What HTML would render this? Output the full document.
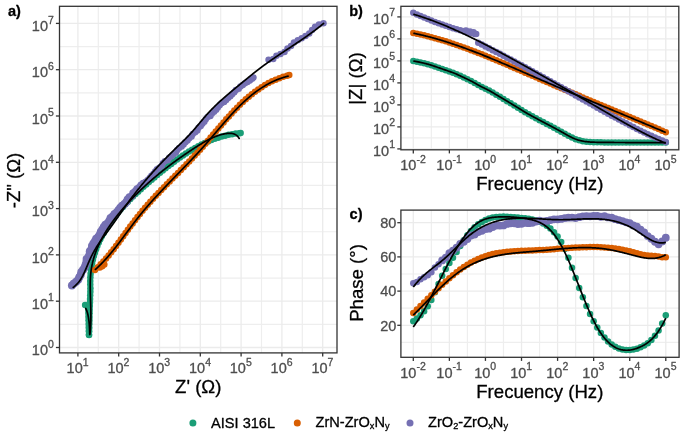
<!DOCTYPE html>
<html><head><meta charset="utf-8"><style>
html,body{margin:0;padding:0;background:#fff;}
svg{display:block;font-family:"Liberation Sans", sans-serif;filter:blur(0.45px);}
text{paint-order:stroke;stroke-width:0.3px;stroke-linejoin:round;}
</style></head><body>
<svg width="685" height="436" viewBox="0 0 685 436">
<rect x="0" y="0" width="685" height="436" fill="#fff"/>
<line x1="98.30" y1="6.3" x2="98.30" y2="352.9" stroke="#EEEEEE" stroke-width="1.2"/>
<line x1="139.10" y1="6.3" x2="139.10" y2="352.9" stroke="#EEEEEE" stroke-width="1.2"/>
<line x1="179.90" y1="6.3" x2="179.90" y2="352.9" stroke="#EEEEEE" stroke-width="1.2"/>
<line x1="220.70" y1="6.3" x2="220.70" y2="352.9" stroke="#EEEEEE" stroke-width="1.2"/>
<line x1="261.50" y1="6.3" x2="261.50" y2="352.9" stroke="#EEEEEE" stroke-width="1.2"/>
<line x1="302.30" y1="6.3" x2="302.30" y2="352.9" stroke="#EEEEEE" stroke-width="1.2"/>
<line x1="59.5" y1="324.35" x2="337.0" y2="324.35" stroke="#EEEEEE" stroke-width="1.2"/>
<line x1="59.5" y1="278.05" x2="337.0" y2="278.05" stroke="#EEEEEE" stroke-width="1.2"/>
<line x1="59.5" y1="231.75" x2="337.0" y2="231.75" stroke="#EEEEEE" stroke-width="1.2"/>
<line x1="59.5" y1="185.45" x2="337.0" y2="185.45" stroke="#EEEEEE" stroke-width="1.2"/>
<line x1="59.5" y1="139.15" x2="337.0" y2="139.15" stroke="#EEEEEE" stroke-width="1.2"/>
<line x1="59.5" y1="92.85" x2="337.0" y2="92.85" stroke="#EEEEEE" stroke-width="1.2"/>
<line x1="59.5" y1="46.55" x2="337.0" y2="46.55" stroke="#EEEEEE" stroke-width="1.2"/>
<line x1="77.90" y1="6.3" x2="77.90" y2="352.9" stroke="#EBEBEB" stroke-width="1.3"/>
<line x1="118.70" y1="6.3" x2="118.70" y2="352.9" stroke="#EBEBEB" stroke-width="1.3"/>
<line x1="159.50" y1="6.3" x2="159.50" y2="352.9" stroke="#EBEBEB" stroke-width="1.3"/>
<line x1="200.30" y1="6.3" x2="200.30" y2="352.9" stroke="#EBEBEB" stroke-width="1.3"/>
<line x1="241.10" y1="6.3" x2="241.10" y2="352.9" stroke="#EBEBEB" stroke-width="1.3"/>
<line x1="281.90" y1="6.3" x2="281.90" y2="352.9" stroke="#EBEBEB" stroke-width="1.3"/>
<line x1="322.70" y1="6.3" x2="322.70" y2="352.9" stroke="#EBEBEB" stroke-width="1.3"/>
<line x1="59.5" y1="347.50" x2="337.0" y2="347.50" stroke="#EBEBEB" stroke-width="1.3"/>
<line x1="59.5" y1="301.20" x2="337.0" y2="301.20" stroke="#EBEBEB" stroke-width="1.3"/>
<line x1="59.5" y1="254.90" x2="337.0" y2="254.90" stroke="#EBEBEB" stroke-width="1.3"/>
<line x1="59.5" y1="208.60" x2="337.0" y2="208.60" stroke="#EBEBEB" stroke-width="1.3"/>
<line x1="59.5" y1="162.30" x2="337.0" y2="162.30" stroke="#EBEBEB" stroke-width="1.3"/>
<line x1="59.5" y1="116.00" x2="337.0" y2="116.00" stroke="#EBEBEB" stroke-width="1.3"/>
<line x1="59.5" y1="69.70" x2="337.0" y2="69.70" stroke="#EBEBEB" stroke-width="1.3"/>
<line x1="59.5" y1="23.40" x2="337.0" y2="23.40" stroke="#EBEBEB" stroke-width="1.3"/>
<line x1="431.34" y1="6.3" x2="431.34" y2="149.8" stroke="#EEEEEE" stroke-width="1.2"/>
<line x1="467.41" y1="6.3" x2="467.41" y2="149.8" stroke="#EEEEEE" stroke-width="1.2"/>
<line x1="503.48" y1="6.3" x2="503.48" y2="149.8" stroke="#EEEEEE" stroke-width="1.2"/>
<line x1="539.55" y1="6.3" x2="539.55" y2="149.8" stroke="#EEEEEE" stroke-width="1.2"/>
<line x1="575.62" y1="6.3" x2="575.62" y2="149.8" stroke="#EEEEEE" stroke-width="1.2"/>
<line x1="611.68" y1="6.3" x2="611.68" y2="149.8" stroke="#EEEEEE" stroke-width="1.2"/>
<line x1="647.75" y1="6.3" x2="647.75" y2="149.8" stroke="#EEEEEE" stroke-width="1.2"/>
<line x1="400.9" y1="137.90" x2="678.8" y2="137.90" stroke="#EEEEEE" stroke-width="1.2"/>
<line x1="400.9" y1="115.90" x2="678.8" y2="115.90" stroke="#EEEEEE" stroke-width="1.2"/>
<line x1="400.9" y1="93.90" x2="678.8" y2="93.90" stroke="#EEEEEE" stroke-width="1.2"/>
<line x1="400.9" y1="71.90" x2="678.8" y2="71.90" stroke="#EEEEEE" stroke-width="1.2"/>
<line x1="400.9" y1="49.90" x2="678.8" y2="49.90" stroke="#EEEEEE" stroke-width="1.2"/>
<line x1="400.9" y1="27.90" x2="678.8" y2="27.90" stroke="#EEEEEE" stroke-width="1.2"/>
<line x1="413.30" y1="6.3" x2="413.30" y2="149.8" stroke="#EBEBEB" stroke-width="1.3"/>
<line x1="449.37" y1="6.3" x2="449.37" y2="149.8" stroke="#EBEBEB" stroke-width="1.3"/>
<line x1="485.44" y1="6.3" x2="485.44" y2="149.8" stroke="#EBEBEB" stroke-width="1.3"/>
<line x1="521.51" y1="6.3" x2="521.51" y2="149.8" stroke="#EBEBEB" stroke-width="1.3"/>
<line x1="557.58" y1="6.3" x2="557.58" y2="149.8" stroke="#EBEBEB" stroke-width="1.3"/>
<line x1="593.65" y1="6.3" x2="593.65" y2="149.8" stroke="#EBEBEB" stroke-width="1.3"/>
<line x1="629.72" y1="6.3" x2="629.72" y2="149.8" stroke="#EBEBEB" stroke-width="1.3"/>
<line x1="665.79" y1="6.3" x2="665.79" y2="149.8" stroke="#EBEBEB" stroke-width="1.3"/>
<line x1="400.9" y1="148.90" x2="678.8" y2="148.90" stroke="#EBEBEB" stroke-width="1.3"/>
<line x1="400.9" y1="126.90" x2="678.8" y2="126.90" stroke="#EBEBEB" stroke-width="1.3"/>
<line x1="400.9" y1="104.90" x2="678.8" y2="104.90" stroke="#EBEBEB" stroke-width="1.3"/>
<line x1="400.9" y1="82.90" x2="678.8" y2="82.90" stroke="#EBEBEB" stroke-width="1.3"/>
<line x1="400.9" y1="60.90" x2="678.8" y2="60.90" stroke="#EBEBEB" stroke-width="1.3"/>
<line x1="400.9" y1="38.90" x2="678.8" y2="38.90" stroke="#EBEBEB" stroke-width="1.3"/>
<line x1="400.9" y1="16.90" x2="678.8" y2="16.90" stroke="#EBEBEB" stroke-width="1.3"/>
<line x1="431.34" y1="210.1" x2="431.34" y2="357.3" stroke="#EEEEEE" stroke-width="1.2"/>
<line x1="467.41" y1="210.1" x2="467.41" y2="357.3" stroke="#EEEEEE" stroke-width="1.2"/>
<line x1="503.48" y1="210.1" x2="503.48" y2="357.3" stroke="#EEEEEE" stroke-width="1.2"/>
<line x1="539.55" y1="210.1" x2="539.55" y2="357.3" stroke="#EEEEEE" stroke-width="1.2"/>
<line x1="575.62" y1="210.1" x2="575.62" y2="357.3" stroke="#EEEEEE" stroke-width="1.2"/>
<line x1="611.68" y1="210.1" x2="611.68" y2="357.3" stroke="#EEEEEE" stroke-width="1.2"/>
<line x1="647.75" y1="210.1" x2="647.75" y2="357.3" stroke="#EEEEEE" stroke-width="1.2"/>
<line x1="400.9" y1="342.40" x2="679.1" y2="342.40" stroke="#EEEEEE" stroke-width="1.2"/>
<line x1="400.9" y1="308.20" x2="679.1" y2="308.20" stroke="#EEEEEE" stroke-width="1.2"/>
<line x1="400.9" y1="274.00" x2="679.1" y2="274.00" stroke="#EEEEEE" stroke-width="1.2"/>
<line x1="400.9" y1="239.80" x2="679.1" y2="239.80" stroke="#EEEEEE" stroke-width="1.2"/>
<line x1="413.30" y1="210.1" x2="413.30" y2="357.3" stroke="#EBEBEB" stroke-width="1.3"/>
<line x1="449.37" y1="210.1" x2="449.37" y2="357.3" stroke="#EBEBEB" stroke-width="1.3"/>
<line x1="485.44" y1="210.1" x2="485.44" y2="357.3" stroke="#EBEBEB" stroke-width="1.3"/>
<line x1="521.51" y1="210.1" x2="521.51" y2="357.3" stroke="#EBEBEB" stroke-width="1.3"/>
<line x1="557.58" y1="210.1" x2="557.58" y2="357.3" stroke="#EBEBEB" stroke-width="1.3"/>
<line x1="593.65" y1="210.1" x2="593.65" y2="357.3" stroke="#EBEBEB" stroke-width="1.3"/>
<line x1="629.72" y1="210.1" x2="629.72" y2="357.3" stroke="#EBEBEB" stroke-width="1.3"/>
<line x1="665.79" y1="210.1" x2="665.79" y2="357.3" stroke="#EBEBEB" stroke-width="1.3"/>
<line x1="400.9" y1="325.30" x2="679.1" y2="325.30" stroke="#EBEBEB" stroke-width="1.3"/>
<line x1="400.9" y1="291.10" x2="679.1" y2="291.10" stroke="#EBEBEB" stroke-width="1.3"/>
<line x1="400.9" y1="256.90" x2="679.1" y2="256.90" stroke="#EBEBEB" stroke-width="1.3"/>
<line x1="400.9" y1="222.70" x2="679.1" y2="222.70" stroke="#EBEBEB" stroke-width="1.3"/>
<defs><clipPath id="clipA"><rect x="59.5" y="6.3" width="277.5" height="346.59999999999997"/></clipPath><clipPath id="clipB"><rect x="400.9" y="6.3" width="277.9" height="143.5"/></clipPath><clipPath id="clipC"><rect x="400.9" y="210.1" width="278.20000000000005" height="147.20000000000002"/></clipPath></defs>
<g clip-path="url(#clipA)">
<g fill="#1B9E77"><circle cx="85.10" cy="305.10" r="3.25"/><circle cx="88.30" cy="309.50" r="3.25"/><circle cx="88.38" cy="313.10" r="3.25"/><circle cx="88.47" cy="316.70" r="3.25"/><circle cx="88.56" cy="320.30" r="3.25"/><circle cx="88.65" cy="323.90" r="3.25"/><circle cx="88.74" cy="327.49" r="3.25"/><circle cx="88.83" cy="331.09" r="3.25"/><circle cx="88.93" cy="334.69" r="3.25"/><circle cx="89.06" cy="334.91" r="3.25"/><circle cx="89.19" cy="331.31" r="3.25"/><circle cx="89.27" cy="327.71" r="3.25"/><circle cx="89.35" cy="324.11" r="3.25"/><circle cx="89.43" cy="320.52" r="3.25"/><circle cx="89.50" cy="316.92" r="3.25"/><circle cx="89.57" cy="313.32" r="3.25"/><circle cx="89.68" cy="309.72" r="3.25"/><circle cx="89.80" cy="306.12" r="3.25"/><circle cx="89.92" cy="302.52" r="3.25"/><circle cx="90.06" cy="298.93" r="3.25"/><circle cx="90.19" cy="295.33" r="3.25"/><circle cx="90.33" cy="291.73" r="3.25"/><circle cx="90.40" cy="288.13" r="3.25"/><circle cx="90.27" cy="284.54" r="3.25"/><circle cx="90.25" cy="280.94" r="3.25"/><circle cx="90.37" cy="277.34" r="3.25"/><circle cx="90.62" cy="273.75" r="3.25"/><circle cx="91.00" cy="270.17" r="3.25"/><circle cx="91.51" cy="266.61" r="3.25"/><circle cx="92.16" cy="263.06" r="3.25"/><circle cx="92.95" cy="259.55" r="3.25"/><circle cx="93.87" cy="256.07" r="3.25"/><circle cx="94.91" cy="252.63" r="3.25"/><circle cx="96.09" cy="249.22" r="3.25"/><circle cx="97.38" cy="245.86" r="3.25"/><circle cx="98.79" cy="242.55" r="3.25"/><circle cx="100.32" cy="239.29" r="3.25"/><circle cx="101.95" cy="236.08" r="3.25"/><circle cx="103.68" cy="232.93" r="3.25"/><circle cx="105.51" cy="229.83" r="3.25"/><circle cx="107.43" cy="226.78" r="3.25"/><circle cx="109.43" cy="223.79" r="3.25"/><circle cx="111.51" cy="220.85" r="3.25"/><circle cx="113.67" cy="217.97" r="3.25"/><circle cx="115.89" cy="215.13" r="3.25"/><circle cx="118.17" cy="212.35" r="3.25"/><circle cx="120.51" cy="209.61" r="3.25"/><circle cx="122.90" cy="206.92" r="3.25"/><circle cx="125.34" cy="204.28" r="3.25"/><circle cx="127.83" cy="201.67" r="3.25"/><circle cx="130.35" cy="199.11" r="3.25"/><circle cx="132.92" cy="196.58" r="3.25"/><circle cx="135.51" cy="194.09" r="3.25"/><circle cx="138.14" cy="191.63" r="3.25"/><circle cx="140.80" cy="189.19" r="3.25"/><circle cx="143.48" cy="186.79" r="3.25"/><circle cx="146.18" cy="184.41" r="3.25"/><circle cx="148.90" cy="182.06" r="3.25"/><circle cx="151.64" cy="179.72" r="3.25"/><circle cx="154.39" cy="177.40" r="3.25"/><circle cx="157.16" cy="175.10" r="3.25"/><circle cx="159.94" cy="172.81" r="3.25"/><circle cx="162.74" cy="170.55" r="3.25"/><circle cx="165.55" cy="168.30" r="3.25"/><circle cx="168.38" cy="166.08" r="3.25"/><circle cx="171.24" cy="163.89" r="3.25"/><circle cx="174.12" cy="161.73" r="3.25"/><circle cx="177.03" cy="159.61" r="3.25"/><circle cx="179.97" cy="157.53" r="3.25"/><circle cx="182.94" cy="155.50" r="3.25"/><circle cx="185.94" cy="153.51" r="3.25"/><circle cx="188.98" cy="151.58" r="3.25"/><circle cx="192.06" cy="149.72" r="3.25"/><circle cx="195.18" cy="147.92" r="3.25"/><circle cx="198.34" cy="146.19" r="3.25"/><circle cx="201.54" cy="144.53" r="3.25"/><circle cx="204.78" cy="142.97" r="3.25"/><circle cx="208.06" cy="141.49" r="3.25"/><circle cx="211.38" cy="140.10" r="3.25"/><circle cx="214.74" cy="138.82" r="3.25"/><circle cx="218.15" cy="137.65" r="3.25"/><circle cx="221.59" cy="136.59" r="3.25"/><circle cx="225.06" cy="135.64" r="3.25"/><circle cx="228.57" cy="134.83" r="3.25"/><circle cx="232.10" cy="134.13" r="3.25"/><circle cx="235.66" cy="133.57" r="3.25"/><circle cx="239.23" cy="133.14" r="3.25"/><circle cx="240.61" cy="133.01" r="3.25"/></g>
<g fill="#D95F02"><circle cx="94.95" cy="269.95" r="3.25"/><circle cx="97.85" cy="267.20" r="3.25"/><circle cx="100.66" cy="264.35" r="3.25"/><circle cx="103.39" cy="261.43" r="3.25"/><circle cx="106.05" cy="258.44" r="3.25"/><circle cx="108.64" cy="255.39" r="3.25"/><circle cx="111.16" cy="252.29" r="3.25"/><circle cx="113.64" cy="249.14" r="3.25"/><circle cx="116.07" cy="245.97" r="3.25"/><circle cx="118.46" cy="242.76" r="3.25"/><circle cx="120.84" cy="239.54" r="3.25"/><circle cx="123.19" cy="236.31" r="3.25"/><circle cx="125.54" cy="233.07" r="3.25"/><circle cx="127.89" cy="229.83" r="3.25"/><circle cx="130.25" cy="226.60" r="3.25"/><circle cx="132.63" cy="223.39" r="3.25"/><circle cx="135.03" cy="220.19" r="3.25"/><circle cx="137.48" cy="217.03" r="3.25"/><circle cx="139.97" cy="213.90" r="3.25"/><circle cx="142.51" cy="210.81" r="3.25"/><circle cx="145.09" cy="207.75" r="3.25"/><circle cx="147.71" cy="204.73" r="3.25"/><circle cx="150.37" cy="201.74" r="3.25"/><circle cx="153.06" cy="198.78" r="3.25"/><circle cx="155.77" cy="195.84" r="3.25"/><circle cx="158.51" cy="192.93" r="3.25"/><circle cx="161.27" cy="190.03" r="3.25"/><circle cx="164.05" cy="187.15" r="3.25"/><circle cx="166.84" cy="184.29" r="3.25"/><circle cx="169.64" cy="181.43" r="3.25"/><circle cx="172.44" cy="178.58" r="3.25"/><circle cx="175.25" cy="175.73" r="3.25"/><circle cx="178.06" cy="172.88" r="3.25"/><circle cx="180.86" cy="170.03" r="3.25"/><circle cx="183.66" cy="167.17" r="3.25"/><circle cx="186.45" cy="164.30" r="3.25"/><circle cx="189.22" cy="161.42" r="3.25"/><circle cx="191.98" cy="158.52" r="3.25"/><circle cx="194.71" cy="155.60" r="3.25"/><circle cx="197.42" cy="152.65" r="3.25"/><circle cx="200.10" cy="149.69" r="3.25"/><circle cx="202.75" cy="146.69" r="3.25"/><circle cx="205.38" cy="143.68" r="3.25"/><circle cx="207.99" cy="140.64" r="3.25"/><circle cx="210.58" cy="137.60" r="3.25"/><circle cx="213.17" cy="134.55" r="3.25"/><circle cx="215.76" cy="131.50" r="3.25"/><circle cx="218.34" cy="128.45" r="3.25"/><circle cx="220.94" cy="125.41" r="3.25"/><circle cx="223.56" cy="122.38" r="3.25"/><circle cx="226.19" cy="119.37" r="3.25"/><circle cx="228.86" cy="116.39" r="3.25"/><circle cx="231.55" cy="113.43" r="3.25"/><circle cx="234.29" cy="110.51" r="3.25"/><circle cx="237.07" cy="107.64" r="3.25"/><circle cx="239.90" cy="104.81" r="3.25"/><circle cx="242.79" cy="102.05" r="3.25"/><circle cx="245.74" cy="99.35" r="3.25"/><circle cx="248.76" cy="96.72" r="3.25"/><circle cx="251.85" cy="94.18" r="3.25"/><circle cx="255.01" cy="91.73" r="3.25"/><circle cx="258.25" cy="89.39" r="3.25"/><circle cx="261.58" cy="87.16" r="3.25"/><circle cx="264.98" cy="85.06" r="3.25"/><circle cx="268.47" cy="83.10" r="3.25"/><circle cx="272.03" cy="81.29" r="3.25"/><circle cx="275.67" cy="79.63" r="3.25"/><circle cx="279.38" cy="78.13" r="3.25"/><circle cx="283.15" cy="76.81" r="3.25"/><circle cx="286.99" cy="75.67" r="3.25"/><circle cx="289.28" cy="75.07" r="3.25"/><circle cx="99.80" cy="267.60" r="3.25"/><circle cx="102.20" cy="266.20" r="3.25"/><circle cx="104.30" cy="264.60" r="3.25"/></g>
<g fill="#7570B3"><circle cx="71.91" cy="285.41" r="4.00"/><circle cx="73.83" cy="283.41" r="4.00"/><circle cx="76.15" cy="281.79" r="4.00"/><circle cx="78.14" cy="279.77" r="4.00"/><circle cx="79.30" cy="277.18" r="4.00"/><circle cx="80.73" cy="274.78" r="4.00"/><circle cx="81.35" cy="271.98" r="4.00"/><circle cx="83.08" cy="269.70" r="4.00"/><circle cx="84.73" cy="267.34" r="4.00"/><circle cx="85.62" cy="264.68" r="4.00"/><circle cx="86.46" cy="261.99" r="4.00"/><circle cx="86.63" cy="259.07" r="4.00"/><circle cx="88.65" cy="256.84" r="4.00"/><circle cx="89.62" cy="254.22" r="4.00"/><circle cx="89.80" cy="251.26" r="4.00"/><circle cx="91.53" cy="248.97" r="4.00"/><circle cx="91.96" cy="246.06" r="4.00"/><circle cx="93.35" cy="243.61" r="4.00"/><circle cx="94.93" cy="241.27" r="4.00"/><circle cx="96.13" cy="238.72" r="4.00"/><circle cx="98.29" cy="236.75" r="4.00"/><circle cx="99.84" cy="234.43" r="4.00"/><circle cx="100.83" cy="231.73" r="4.00"/><circle cx="102.38" cy="229.39" r="4.00"/><circle cx="103.77" cy="226.94" r="4.00"/><circle cx="105.40" cy="224.65" r="4.00"/><circle cx="107.80" cy="222.96" r="4.00"/><circle cx="109.40" cy="220.66" r="4.00"/><circle cx="110.57" cy="218.00" r="4.00"/><circle cx="112.81" cy="216.21" r="4.00"/><circle cx="114.53" cy="214.00" r="4.00"/><circle cx="116.83" cy="212.29" r="4.00"/><circle cx="118.54" cy="210.06" r="4.00"/><circle cx="120.28" cy="207.87" r="4.00"/><circle cx="122.10" cy="205.74" r="4.00"/><circle cx="124.40" cy="204.05" r="4.00"/><circle cx="126.33" cy="202.03" r="3.96"/><circle cx="127.58" cy="199.37" r="3.92"/><circle cx="129.40" cy="197.24" r="3.87"/><circle cx="131.90" cy="195.75" r="3.79"/><circle cx="133.11" cy="193.02" r="3.76"/><circle cx="135.34" cy="191.28" r="3.69"/><circle cx="136.96" cy="188.95" r="3.64"/><circle cx="139.22" cy="187.24" r="3.57"/><circle cx="140.91" cy="184.97" r="3.52"/><circle cx="143.14" cy="183.24" r="3.46"/><circle cx="145.68" cy="181.83" r="3.38"/><circle cx="147.80" cy="179.99" r="3.32"/><circle cx="149.67" cy="177.90" r="3.26"/><circle cx="151.41" cy="175.67" r="3.25"/><circle cx="153.47" cy="173.77" r="3.25"/><circle cx="155.19" cy="171.53" r="3.25"/><circle cx="156.97" cy="169.35" r="3.25"/><circle cx="159.28" cy="167.70" r="3.25"/><circle cx="161.61" cy="166.09" r="3.25"/><circle cx="162.87" cy="163.36" r="3.25"/><circle cx="164.83" cy="161.36" r="3.25"/><circle cx="167.67" cy="160.26" r="3.25"/><circle cx="169.14" cy="157.76" r="3.25"/><circle cx="171.59" cy="156.26" r="3.25"/><circle cx="173.62" cy="154.33" r="3.25"/><circle cx="175.83" cy="152.59" r="3.25"/><circle cx="177.22" cy="150.01" r="3.25"/><circle cx="179.15" cy="147.98" r="3.25"/><circle cx="181.63" cy="146.50" r="3.25"/><circle cx="183.55" cy="144.46" r="3.25"/><circle cx="185.39" cy="142.33" r="3.25"/><circle cx="187.52" cy="140.50" r="3.25"/><circle cx="189.27" cy="138.29" r="3.25"/><circle cx="191.57" cy="136.62" r="3.25"/><circle cx="192.77" cy="133.89" r="3.25"/><circle cx="195.16" cy="132.29" r="3.25"/><circle cx="197.31" cy="130.47" r="3.25"/><circle cx="198.49" cy="127.75" r="3.25"/><circle cx="200.72" cy="125.99" r="3.25"/><circle cx="202.33" cy="123.67" r="3.25"/><circle cx="204.34" cy="121.71" r="3.25"/><circle cx="205.79" cy="119.24" r="3.25"/><circle cx="207.63" cy="117.12" r="3.25"/><circle cx="210.40" cy="115.88" r="3.25"/><circle cx="211.96" cy="113.51" r="3.25"/><circle cx="214.09" cy="111.66" r="3.25"/><circle cx="216.16" cy="109.78" r="3.25"/><circle cx="217.74" cy="107.41" r="3.25"/><circle cx="219.65" cy="105.36" r="3.25"/><circle cx="221.41" cy="103.15" r="3.25"/><circle cx="224.11" cy="101.91" r="3.25"/><circle cx="226.17" cy="100.02" r="3.25"/><circle cx="228.10" cy="97.99" r="3.25"/><circle cx="230.31" cy="96.27" r="3.25"/><circle cx="232.15" cy="94.13" r="3.25"/><circle cx="234.31" cy="92.36" r="3.25"/><circle cx="235.93" cy="89.93" r="3.25"/><circle cx="238.68" cy="88.87" r="3.25"/><circle cx="240.45" cy="86.59" r="3.25"/><circle cx="242.77" cy="85.02" r="3.25"/><circle cx="244.92" cy="83.20" r="3.25"/><circle cx="247.43" cy="81.91" r="3.25"/><circle cx="249.83" cy="80.45" r="3.25"/><circle cx="252.10" cy="78.82" r="3.25"/><circle cx="253.42" cy="77.50" r="3.25"/><circle cx="268.56" cy="59.77" r="3.25"/><circle cx="273.26" cy="58.94" r="3.25"/><circle cx="276.45" cy="55.78" r="3.25"/><circle cx="280.52" cy="53.95" r="3.25"/><circle cx="284.53" cy="52.00" r="3.25"/><circle cx="287.49" cy="48.54" r="3.25"/><circle cx="291.02" cy="45.92" r="3.25"/><circle cx="293.94" cy="42.44" r="3.25"/><circle cx="297.79" cy="40.26" r="3.25"/><circle cx="301.69" cy="38.14" r="3.25"/><circle cx="305.50" cy="35.89" r="3.25"/><circle cx="309.22" cy="33.51" r="3.25"/><circle cx="312.08" cy="29.99" r="3.25"/><circle cx="315.11" cy="26.70" r="3.25"/><circle cx="318.97" cy="24.52" r="3.25"/><circle cx="323.46" cy="23.17" r="3.25"/></g>
<path d="M85.73,308.44 L85.97,308.90 L86.19,309.37 L86.41,309.86 L86.62,310.37 L86.81,310.90 L87.00,311.44 L87.18,311.99 L87.35,312.56 L87.51,313.14 L87.67,313.73 L87.81,314.32 L87.95,314.93 L88.08,315.55 L88.21,316.17 L88.33,316.80 L88.44,317.43 L88.54,318.07 L88.64,318.71 L88.73,319.35 L88.81,319.99 L88.89,320.63 L88.97,321.27 L89.04,321.90 L89.10,322.54 L89.16,323.16 L89.21,323.79 L89.27,324.40 L89.31,325.01 L89.35,325.61 L89.39,326.19 L89.43,326.77 L89.46,327.34 L89.49,327.89 L89.51,328.43 L89.54,328.95 L89.56,329.46 L89.58,329.95 L89.60,330.42 L89.61,330.87 L89.63,331.30 L89.64,331.71 L89.65,332.10 L89.66,332.47 L89.67,332.81 L89.68,333.12 L89.69,333.41 L89.70,333.67 L89.71,333.90 L89.72,334.11 L89.73,334.28 L89.75,334.42 L89.76,334.52 L89.78,334.60 L89.79,334.64 L89.81,334.64 L89.83,334.61 L89.85,334.54 L89.88,334.43 L89.90,334.30 L89.93,334.13 L89.96,333.93 L89.99,333.70 L90.02,333.45 L90.05,333.16 L90.09,332.85 L90.12,332.52 L90.15,332.16 L90.19,331.78 L90.22,331.38 L90.26,330.96 L90.29,330.52 L90.33,330.06 L90.36,329.59 L90.40,329.10 L90.43,328.59 L90.47,328.08 L90.50,327.55 L90.53,327.01 L90.57,326.46 L90.60,325.90 L90.63,325.33 L90.66,324.76 L90.68,324.19 L90.71,323.60 L90.73,323.02 L90.75,322.44 L90.78,321.85 L90.79,321.27 L90.81,320.69 L90.82,320.10 L90.84,319.52 L90.85,318.94 L90.86,318.36 L90.86,317.79 L90.87,317.21 L90.87,316.63 L90.88,316.06 L90.88,315.48 L90.88,314.91 L90.88,314.34 L90.87,313.77 L90.87,313.19 L90.86,312.63 L90.86,312.06 L90.85,311.49 L90.84,310.92 L90.83,310.36 L90.82,309.79 L90.81,309.23 L90.79,308.66 L90.78,308.10 L90.77,307.54 L90.75,306.98 L90.74,306.42 L90.72,305.86 L90.70,305.30 L90.69,304.74 L90.67,304.19 L90.65,303.63 L90.63,303.08 L90.62,302.53 L90.60,301.97 L90.58,301.42 L90.56,300.87 L90.54,300.32 L90.52,299.77 L90.50,299.22 L90.48,298.68 L90.47,298.13 L90.45,297.58 L90.43,297.04 L90.41,296.50 L90.39,295.95 L90.38,295.41 L90.36,294.87 L90.35,294.33 L90.33,293.79 L90.32,293.25 L90.30,292.71 L90.29,292.18 L90.28,291.64 L90.27,291.10 L90.25,290.57 L90.25,290.04 L90.24,289.50 L90.23,288.97 L90.22,288.44 L90.22,287.91 L90.21,287.38 L90.21,286.85 L90.21,286.32 L90.21,285.80 L90.21,285.27 L90.21,284.74 L90.22,284.22 L90.23,283.70 L90.23,283.17 L90.24,282.65 L90.25,282.13 L90.27,281.61 L90.28,281.09 L90.30,280.57 L90.32,280.05 L90.34,279.53 L90.36,279.02 L90.39,278.50 L90.42,277.99 L90.44,277.47 L90.48,276.96 L90.51,276.45 L90.55,275.93 L90.59,275.42 L90.63,274.91 L90.67,274.40 L90.72,273.89 L90.77,273.39 L90.82,272.88 L90.88,272.37 L90.94,271.87 L91.00,271.36 L91.06,270.86 L91.13,270.35 L91.20,269.85 L91.27,269.35 L91.35,268.85 L91.42,268.35 L91.51,267.85 L91.59,267.35 L91.68,266.85 L91.77,266.35 L91.87,265.86 L91.96,265.36 L92.07,264.87 L92.17,264.37 L92.28,263.88 L92.38,263.38 L92.50,262.89 L92.61,262.40 L92.73,261.91 L92.85,261.42 L92.98,260.93 L93.10,260.44 L93.23,259.95 L93.37,259.47 L93.50,258.98 L93.64,258.50 L93.78,258.01 L93.92,257.53 L94.07,257.04 L94.22,256.56 L94.37,256.08 L94.52,255.60 L94.68,255.12 L94.84,254.64 L95.00,254.16 L95.17,253.68 L95.34,253.21 L95.51,252.73 L95.68,252.25 L95.85,251.78 L96.03,251.31 L96.21,250.83 L96.39,250.36 L96.58,249.89 L96.77,249.42 L96.96,248.95 L97.15,248.48 L97.35,248.01 L97.54,247.54 L97.74,247.07 L97.94,246.61 L98.15,246.14 L98.36,245.68 L98.56,245.21 L98.78,244.75 L98.99,244.29 L99.21,243.83 L99.42,243.37 L99.64,242.91 L99.87,242.45 L100.09,241.99 L100.32,241.53 L100.55,241.07 L100.78,240.62 L101.01,240.16 L101.25,239.71 L101.48,239.25 L101.72,238.80 L101.96,238.35 L102.21,237.90 L102.45,237.45 L102.70,237.00 L102.95,236.55 L103.20,236.10 L103.45,235.65 L103.71,235.20 L103.97,234.76 L104.22,234.31 L104.49,233.87 L104.75,233.43 L105.01,232.98 L105.28,232.54 L105.55,232.10 L105.82,231.66 L106.09,231.22 L106.36,230.78 L106.64,230.34 L106.91,229.91 L107.19,229.47 L107.47,229.03 L107.76,228.60 L108.04,228.16 L108.32,227.73 L108.61,227.30 L108.90,226.87 L109.19,226.44 L109.48,226.01 L109.77,225.58 L110.07,225.15 L110.37,224.72 L110.66,224.29 L110.96,223.87 L111.26,223.44 L111.56,223.02 L111.87,222.60 L112.17,222.17 L112.48,221.75 L112.79,221.33 L113.10,220.91 L113.41,220.49 L113.72,220.07 L114.03,219.65 L114.34,219.24 L114.66,218.82 L114.98,218.40 L115.29,217.99 L115.61,217.58 L115.93,217.16 L116.25,216.75 L116.58,216.34 L116.90,215.93 L117.23,215.52 L117.55,215.11 L117.88,214.70 L118.21,214.29 L118.54,213.89 L118.87,213.48 L119.20,213.08 L119.53,212.67 L119.86,212.27 L120.20,211.87 L120.53,211.47 L120.87,211.07 L121.21,210.67 L121.54,210.27 L121.88,209.87 L122.22,209.47 L122.56,209.07 L122.91,208.68 L123.25,208.28 L123.59,207.89 L123.93,207.50 L124.28,207.10 L124.62,206.71 L124.97,206.32 L125.32,205.93 L125.67,205.54 L126.01,205.15 L126.36,204.77 L126.71,204.38 L127.06,203.99 L127.41,203.61 L127.76,203.22 L128.12,202.84 L128.47,202.46 L128.82,202.08 L129.17,201.70 L129.53,201.32 L129.88,200.94 L130.24,200.56 L130.59,200.18 L130.95,199.80 L131.31,199.43 L131.66,199.05 L132.02,198.68 L132.38,198.31 L132.74,197.93 L133.10,197.56 L133.46,197.19 L133.82,196.82 L134.18,196.45 L134.54,196.08 L134.90,195.72 L135.26,195.35 L135.62,194.98 L135.99,194.62 L136.35,194.25 L136.71,193.89 L137.08,193.53 L137.44,193.16 L137.81,192.80 L138.18,192.44 L138.54,192.08 L138.91,191.72 L139.28,191.36 L139.64,191.00 L140.01,190.65 L140.38,190.29 L140.75,189.94 L141.12,189.58 L141.49,189.23 L141.86,188.87 L142.24,188.52 L142.61,188.17 L142.98,187.82 L143.35,187.47 L143.73,187.12 L144.10,186.77 L144.48,186.42 L144.85,186.07 L145.23,185.73 L145.60,185.38 L145.98,185.03 L146.36,184.69 L146.74,184.35 L147.11,184.00 L147.49,183.66 L147.87,183.32 L148.25,182.98 L148.63,182.63 L149.01,182.29 L149.40,181.95 L149.78,181.62 L150.16,181.28 L150.54,180.94 L150.93,180.60 L151.31,180.27 L151.70,179.93 L152.08,179.60 L152.47,179.26 L152.85,178.93 L153.24,178.60 L153.63,178.26 L154.02,177.93 L154.41,177.60 L154.79,177.27 L155.18,176.94 L155.57,176.61 L155.96,176.28 L156.36,175.95 L156.75,175.63 L157.14,175.30 L157.53,174.97 L157.93,174.65 L158.32,174.32 L158.71,174.00 L159.11,173.67 L159.50,173.35 L159.90,173.03 L160.30,172.70 L160.69,172.38 L161.09,172.06 L161.49,171.74 L161.89,171.42 L162.29,171.10 L162.69,170.78 L163.09,170.46 L163.49,170.14 L163.89,169.83 L164.29,169.51 L164.70,169.19 L165.10,168.88 L165.50,168.56 L165.91,168.25 L166.31,167.93 L166.72,167.62 L167.13,167.31 L167.53,166.99 L167.94,166.68 L168.35,166.37 L168.76,166.06 L169.16,165.75 L169.57,165.44 L169.98,165.13 L170.39,164.82 L170.80,164.51 L171.22,164.20 L171.63,163.89 L172.04,163.59 L172.46,163.28 L172.87,162.97 L173.28,162.67 L173.70,162.36 L174.11,162.05 L174.53,161.75 L174.95,161.45 L175.36,161.14 L175.78,160.84 L176.20,160.54 L176.62,160.23 L177.04,159.93 L177.46,159.63 L177.88,159.33 L178.30,159.03 L178.72,158.73 L179.15,158.43 L179.57,158.13 L179.99,157.83 L180.42,157.53 L180.84,157.23 L181.27,156.93 L181.69,156.64 L182.12,156.34 L182.55,156.04 L182.98,155.75 L183.40,155.45 L183.83,155.15 L184.26,154.86 L184.69,154.56 L185.12,154.27 L185.56,153.97 L185.99,153.68 L186.42,153.39 L186.85,153.09 L187.29,152.80 L187.72,152.51 L188.16,152.22 L188.59,151.92 L189.03,151.63 L189.46,151.34 L189.90,151.05 L190.34,150.76 L190.78,150.47 L191.22,150.18 L191.66,149.89 L192.10,149.60 L192.54,149.31 L192.98,149.02 L193.42,148.74 L193.86,148.45 L194.31,148.16 L194.75,147.87 L195.19,147.59 L195.64,147.30 L196.09,147.01 L196.53,146.73 L196.98,146.44 L197.43,146.16 L197.87,145.87 L198.32,145.59 L198.77,145.31 L199.22,145.03 L199.67,144.75 L200.12,144.47 L200.58,144.20 L201.03,143.92 L201.48,143.65 L201.94,143.37 L202.39,143.10 L202.85,142.83 L203.30,142.57 L203.76,142.30 L204.22,142.04 L204.67,141.78 L205.13,141.52 L205.59,141.26 L206.05,141.01 L206.51,140.76 L206.97,140.51 L207.44,140.26 L207.90,140.02 L208.36,139.78 L208.83,139.54 L209.29,139.30 L209.76,139.07 L210.22,138.84 L210.69,138.62 L211.16,138.39 L211.63,138.17 L212.10,137.96 L212.57,137.75 L213.04,137.54 L213.51,137.33 L213.98,137.13 L214.45,136.94 L214.93,136.74 L215.40,136.55 L215.88,136.37 L216.35,136.19 L216.83,136.01 L217.31,135.84 L217.79,135.68 L218.27,135.51 L218.75,135.36 L219.23,135.20 L219.71,135.05 L220.19,134.91 L220.67,134.77 L221.16,134.64 L221.64,134.51 L222.13,134.39 L222.62,134.27 L223.10,134.16 L223.59,134.05 L224.08,133.95 L224.57,133.86 L225.06,133.77 L225.55,133.69 L226.04,133.61 L226.54,133.54 L227.03,133.47 L227.52,133.42 L228.02,133.37 L228.51,133.33 L229.00,133.31 L229.49,133.29 L229.98,133.29 L230.46,133.30 L230.94,133.33 L231.42,133.37 L231.89,133.43 L232.36,133.50 L232.83,133.60 L233.29,133.71 L233.74,133.85 L234.19,134.00 L234.63,134.18 L235.06,134.39 L235.48,134.61 L235.90,134.87 L236.31,135.15 L236.71,135.45 L237.10,135.79 L237.48,136.15 L237.85,136.55 L238.21,136.98 L238.55,137.44 L238.89,137.93 L239.21,138.46" fill="none" stroke="#000" stroke-width="1.7" stroke-linejoin="round" stroke-linecap="round"/>
<path d="M95.42,269.44 L95.76,269.13 L96.10,268.82 L96.44,268.51 L96.78,268.20 L97.12,267.88 L97.46,267.57 L97.79,267.25 L98.13,266.94 L98.46,266.62 L98.79,266.30 L99.12,265.98 L99.45,265.66 L99.78,265.33 L100.11,265.01 L100.44,264.68 L100.76,264.36 L101.09,264.03 L101.41,263.70 L101.73,263.37 L102.05,263.04 L102.37,262.71 L102.69,262.38 L103.01,262.05 L103.32,261.71 L103.64,261.38 L103.96,261.04 L104.27,260.70 L104.58,260.36 L104.89,260.03 L105.21,259.69 L105.52,259.34 L105.82,259.00 L106.13,258.66 L106.44,258.32 L106.75,257.97 L107.05,257.63 L107.36,257.28 L107.66,256.93 L107.96,256.59 L108.27,256.24 L108.57,255.89 L108.87,255.54 L109.17,255.19 L109.47,254.84 L109.77,254.48 L110.06,254.13 L110.36,253.78 L110.66,253.42 L110.95,253.07 L111.25,252.71 L111.54,252.36 L111.84,252.00 L112.13,251.64 L112.42,251.28 L112.71,250.92 L113.00,250.56 L113.30,250.20 L113.58,249.84 L113.87,249.48 L114.16,249.12 L114.45,248.76 L114.74,248.40 L115.03,248.03 L115.31,247.67 L115.60,247.31 L115.88,246.94 L116.17,246.58 L116.45,246.21 L116.74,245.84 L117.02,245.48 L117.31,245.11 L117.59,244.74 L117.87,244.38 L118.15,244.01 L118.43,243.64 L118.72,243.27 L119.00,242.90 L119.28,242.53 L119.56,242.16 L119.84,241.79 L120.12,241.42 L120.40,241.05 L120.68,240.68 L120.96,240.31 L121.23,239.94 L121.51,239.57 L121.79,239.20 L122.07,238.83 L122.35,238.45 L122.62,238.08 L122.90,237.71 L123.18,237.34 L123.45,236.96 L123.73,236.59 L124.01,236.22 L124.28,235.85 L124.56,235.47 L124.84,235.10 L125.11,234.73 L125.39,234.35 L125.67,233.98 L125.94,233.61 L126.22,233.23 L126.49,232.86 L126.77,232.49 L127.05,232.11 L127.32,231.74 L127.60,231.37 L127.87,230.99 L128.15,230.62 L128.43,230.25 L128.70,229.88 L128.98,229.50 L129.26,229.13 L129.53,228.76 L129.81,228.39 L130.09,228.02 L130.36,227.64 L130.64,227.27 L130.92,226.90 L131.19,226.53 L131.47,226.16 L131.75,225.79 L132.03,225.42 L132.31,225.05 L132.58,224.68 L132.86,224.31 L133.14,223.94 L133.42,223.57 L133.70,223.20 L133.98,222.83 L134.26,222.46 L134.54,222.10 L134.82,221.73 L135.10,221.36 L135.39,221.00 L135.67,220.63 L135.95,220.26 L136.23,219.90 L136.52,219.53 L136.80,219.17 L137.08,218.81 L137.37,218.44 L137.65,218.08 L137.94,217.72 L138.23,217.36 L138.51,216.99 L138.80,216.63 L139.09,216.27 L139.37,215.91 L139.66,215.55 L139.95,215.20 L140.24,214.84 L140.53,214.48 L140.82,214.12 L141.11,213.77 L141.40,213.41 L141.70,213.06 L141.99,212.70 L142.28,212.35 L142.57,211.99 L142.87,211.64 L143.16,211.29 L143.46,210.93 L143.75,210.58 L144.05,210.23 L144.34,209.88 L144.64,209.53 L144.94,209.18 L145.23,208.83 L145.53,208.48 L145.83,208.13 L146.13,207.78 L146.43,207.43 L146.73,207.08 L147.03,206.74 L147.33,206.39 L147.63,206.04 L147.93,205.70 L148.23,205.35 L148.53,205.01 L148.83,204.66 L149.13,204.32 L149.44,203.97 L149.74,203.63 L150.04,203.29 L150.35,202.94 L150.65,202.60 L150.96,202.26 L151.26,201.92 L151.57,201.58 L151.87,201.23 L152.18,200.89 L152.48,200.55 L152.79,200.21 L153.10,199.87 L153.40,199.53 L153.71,199.19 L154.02,198.85 L154.33,198.52 L154.64,198.18 L154.94,197.84 L155.25,197.50 L155.56,197.16 L155.87,196.83 L156.18,196.49 L156.49,196.15 L156.80,195.82 L157.11,195.48 L157.42,195.14 L157.74,194.81 L158.05,194.47 L158.36,194.14 L158.67,193.80 L158.98,193.47 L159.30,193.13 L159.61,192.80 L159.92,192.47 L160.24,192.13 L160.55,191.80 L160.86,191.46 L161.18,191.13 L161.49,190.80 L161.81,190.47 L162.12,190.13 L162.44,189.80 L162.75,189.47 L163.07,189.14 L163.38,188.80 L163.70,188.47 L164.01,188.14 L164.33,187.81 L164.65,187.48 L164.96,187.15 L165.28,186.82 L165.60,186.49 L165.91,186.15 L166.23,185.82 L166.55,185.49 L166.86,185.16 L167.18,184.83 L167.50,184.50 L167.82,184.17 L168.14,183.84 L168.45,183.51 L168.77,183.18 L169.09,182.85 L169.41,182.52 L169.73,182.19 L170.05,181.87 L170.37,181.54 L170.68,181.21 L171.00,180.88 L171.32,180.55 L171.64,180.22 L171.96,179.89 L172.28,179.56 L172.60,179.23 L172.92,178.90 L173.24,178.57 L173.56,178.24 L173.88,177.92 L174.20,177.59 L174.52,177.26 L174.84,176.93 L175.16,176.60 L175.48,176.27 L175.80,175.94 L176.12,175.61 L176.44,175.28 L176.76,174.96 L177.08,174.63 L177.40,174.30 L177.73,173.97 L178.05,173.64 L178.37,173.31 L178.69,172.98 L179.01,172.65 L179.33,172.32 L179.65,171.99 L179.97,171.66 L180.29,171.33 L180.61,171.00 L180.93,170.67 L181.25,170.34 L181.57,170.01 L181.89,169.68 L182.22,169.35 L182.54,169.02 L182.86,168.69 L183.18,168.36 L183.50,168.03 L183.82,167.70 L184.14,167.37 L184.46,167.04 L184.78,166.71 L185.10,166.38 L185.42,166.04 L185.74,165.71 L186.06,165.38 L186.38,165.05 L186.70,164.72 L187.02,164.39 L187.34,164.05 L187.66,163.72 L187.98,163.39 L188.30,163.05 L188.62,162.72 L188.94,162.39 L189.26,162.05 L189.58,161.72 L189.89,161.39 L190.21,161.05 L190.53,160.72 L190.85,160.38 L191.17,160.05 L191.49,159.71 L191.81,159.38 L192.12,159.04 L192.44,158.70 L192.76,158.37 L193.08,158.03 L193.40,157.69 L193.71,157.36 L194.03,157.02 L194.35,156.68 L194.66,156.34 L194.98,156.01 L195.30,155.67 L195.61,155.33 L195.93,154.99 L196.25,154.65 L196.56,154.31 L196.88,153.97 L197.19,153.63 L197.51,153.29 L197.82,152.95 L198.14,152.61 L198.45,152.27 L198.77,151.92 L199.08,151.58 L199.39,151.24 L199.71,150.90 L200.02,150.55 L200.33,150.21 L200.65,149.86 L200.96,149.52 L201.27,149.17 L201.58,148.83 L201.90,148.48 L202.21,148.14 L202.52,147.79 L202.83,147.44 L203.14,147.10 L203.45,146.75 L203.76,146.40 L204.07,146.05 L204.38,145.70 L204.69,145.35 L205.00,145.00 L205.31,144.65 L205.62,144.30 L205.93,143.95 L206.23,143.60 L206.54,143.25 L206.85,142.89 L207.16,142.54 L207.46,142.19 L207.77,141.84 L208.08,141.48 L208.38,141.13 L208.69,140.77 L209.00,140.42 L209.30,140.06 L209.61,139.71 L209.91,139.35 L210.22,139.00 L210.52,138.64 L210.83,138.29 L211.14,137.93 L211.44,137.57 L211.74,137.22 L212.05,136.86 L212.35,136.51 L212.66,136.15 L212.96,135.79 L213.27,135.43 L213.57,135.08 L213.88,134.72 L214.18,134.36 L214.48,134.01 L214.79,133.65 L215.09,133.29 L215.40,132.93 L215.70,132.58 L216.00,132.22 L216.31,131.86 L216.61,131.50 L216.92,131.15 L217.22,130.79 L217.52,130.43 L217.83,130.07 L218.13,129.72 L218.44,129.36 L218.74,129.00 L219.04,128.65 L219.35,128.29 L219.65,127.93 L219.96,127.58 L220.26,127.22 L220.57,126.86 L220.87,126.51 L221.18,126.15 L221.48,125.80 L221.79,125.44 L222.09,125.09 L222.40,124.73 L222.70,124.38 L223.01,124.02 L223.31,123.67 L223.62,123.31 L223.93,122.96 L224.23,122.61 L224.54,122.25 L224.85,121.90 L225.15,121.55 L225.46,121.20 L225.77,120.85 L226.08,120.50 L226.38,120.14 L226.69,119.79 L227.00,119.44 L227.31,119.10 L227.62,118.75 L227.93,118.40 L228.24,118.05 L228.55,117.70 L228.86,117.35 L229.17,117.01 L229.48,116.66 L229.79,116.32 L230.10,115.97 L230.41,115.63 L230.72,115.28 L231.04,114.94 L231.35,114.60 L231.66,114.26 L231.98,113.91 L232.29,113.57 L232.61,113.23 L232.92,112.89 L233.24,112.55 L233.55,112.22 L233.87,111.88 L234.18,111.54 L234.50,111.20 L234.82,110.87 L235.14,110.53 L235.45,110.20 L235.77,109.87 L236.09,109.53 L236.41,109.20 L236.73,108.87 L237.05,108.54 L237.37,108.21 L237.70,107.88 L238.02,107.55 L238.34,107.23 L238.66,106.90 L238.99,106.58 L239.31,106.25 L239.64,105.93 L239.96,105.61 L240.29,105.28 L240.62,104.96 L240.94,104.64 L241.27,104.32 L241.60,104.01 L241.93,103.69 L242.26,103.37 L242.59,103.06 L242.92,102.74 L243.25,102.43 L243.58,102.12 L243.92,101.81 L244.25,101.50 L244.58,101.19 L244.92,100.88 L245.25,100.58 L245.59,100.27 L245.93,99.97 L246.26,99.66 L246.60,99.36 L246.94,99.06 L247.28,98.76 L247.62,98.46 L247.96,98.16 L248.31,97.87 L248.65,97.57 L248.99,97.28 L249.34,96.99 L249.68,96.69 L250.03,96.40 L250.37,96.11 L250.72,95.83 L251.07,95.54 L251.42,95.26 L251.77,94.97 L252.12,94.69 L252.47,94.41 L252.83,94.13 L253.18,93.85 L253.53,93.57 L253.89,93.30 L254.24,93.02 L254.60,92.75 L254.96,92.48 L255.32,92.21 L255.68,91.94 L256.04,91.67 L256.40,91.41 L256.76,91.14 L257.13,90.88 L257.49,90.62 L257.86,90.36 L258.22,90.10 L258.59,89.84 L258.96,89.59 L259.33,89.34 L259.70,89.08 L260.07,88.83 L260.44,88.58 L260.81,88.34 L261.19,88.09 L261.56,87.85 L261.94,87.60 L262.32,87.36 L262.69,87.12 L263.07,86.89 L263.45,86.65 L263.84,86.42 L264.22,86.19 L264.60,85.95 L264.99,85.73 L265.37,85.50 L265.76,85.27 L266.15,85.05 L266.54,84.83 L266.93,84.61 L267.32,84.39 L267.71,84.17 L268.11,83.96 L268.50,83.75 L268.90,83.53 L269.30,83.33 L269.70,83.12 L270.10,82.91 L270.50,82.71 L270.90,82.51 L271.30,82.31 L271.71,82.11 L272.11,81.91 L272.52,81.72 L272.93,81.53 L273.34,81.34 L273.75,81.15 L274.16,80.97 L274.58,80.78 L274.99,80.60 L275.41,80.42 L275.82,80.24 L276.24,80.07 L276.66,79.89 L277.08,79.72 L277.51,79.55 L277.93,79.39 L278.36,79.22 L278.78,79.06 L279.21,78.90 L279.64,78.74 L280.07,78.58 L280.50,78.43 L280.94,78.27 L281.37,78.12 L281.81,77.98 L282.25,77.83 L282.69,77.69 L283.13,77.55 L283.57,77.41 L284.01,77.27 L284.46,77.14 L284.90,77.00 L285.35,76.87 L285.80,76.75 L286.25,76.62 L286.71,76.50 L287.16,76.38 L287.61,76.26 L288.07,76.14" fill="none" stroke="#000" stroke-width="1.7" stroke-linejoin="round" stroke-linecap="round"/>
<path d="M73.21,287.33 L73.71,286.97 L74.20,286.59 L74.68,286.20 L75.14,285.80 L75.59,285.40 L76.04,284.99 L76.47,284.56 L76.89,284.13 L77.29,283.70 L77.69,283.25 L78.08,282.80 L78.46,282.34 L78.83,281.87 L79.19,281.40 L79.54,280.92 L79.88,280.43 L80.22,279.94 L80.55,279.44 L80.87,278.94 L81.18,278.43 L81.49,277.92 L81.79,277.40 L82.09,276.88 L82.38,276.35 L82.66,275.82 L82.94,275.29 L83.21,274.75 L83.48,274.21 L83.75,273.66 L84.01,273.12 L84.27,272.57 L84.53,272.01 L84.78,271.46 L85.03,270.90 L85.28,270.34 L85.52,269.78 L85.77,269.21 L86.01,268.65 L86.25,268.08 L86.49,267.51 L86.73,266.94 L86.97,266.37 L87.21,265.80 L87.44,265.23 L87.68,264.66 L87.92,264.09 L88.16,263.52 L88.40,262.95 L88.65,262.38 L88.89,261.81 L89.14,261.24 L89.39,260.68 L89.64,260.11 L89.89,259.55 L90.15,258.99 L90.41,258.42 L90.67,257.87 L90.94,257.31 L91.21,256.75 L91.48,256.20 L91.75,255.65 L92.03,255.10 L92.31,254.55 L92.60,254.00 L92.89,253.45 L93.18,252.91 L93.47,252.37 L93.77,251.83 L94.06,251.29 L94.37,250.75 L94.67,250.21 L94.98,249.68 L95.29,249.15 L95.60,248.62 L95.92,248.09 L96.24,247.56 L96.56,247.04 L96.89,246.51 L97.21,245.99 L97.54,245.47 L97.88,244.95 L98.21,244.44 L98.55,243.92 L98.89,243.41 L99.24,242.90 L99.58,242.39 L99.93,241.88 L100.28,241.37 L100.64,240.87 L100.99,240.36 L101.35,239.86 L101.71,239.36 L102.07,238.86 L102.43,238.36 L102.80,237.86 L103.16,237.36 L103.53,236.86 L103.89,236.37 L104.26,235.87 L104.63,235.38 L105.00,234.88 L105.37,234.39 L105.74,233.89 L106.11,233.40 L106.48,232.91 L106.85,232.41 L107.22,231.92 L107.58,231.42 L107.95,230.93 L108.32,230.44 L108.69,229.94 L109.05,229.45 L109.42,228.95 L109.78,228.46 L110.15,227.96 L110.51,227.47 L110.87,226.97 L111.23,226.47 L111.59,225.98 L111.95,225.48 L112.31,224.98 L112.66,224.48 L113.02,223.98 L113.37,223.48 L113.73,222.98 L114.08,222.48 L114.43,221.98 L114.79,221.49 L115.14,220.98 L115.49,220.48 L115.84,219.98 L116.19,219.48 L116.54,218.98 L116.89,218.48 L117.24,217.98 L117.59,217.48 L117.94,216.98 L118.29,216.48 L118.64,215.98 L118.99,215.48 L119.33,214.98 L119.68,214.47 L120.03,213.97 L120.38,213.47 L120.73,212.97 L121.08,212.47 L121.43,211.97 L121.77,211.47 L122.12,210.97 L122.47,210.47 L122.82,209.97 L123.17,209.47 L123.52,208.97 L123.87,208.47 L124.22,207.97 L124.57,207.48 L124.92,206.98 L125.28,206.48 L125.63,205.98 L125.98,205.48 L126.34,204.99 L126.69,204.49 L127.05,204.00 L127.40,203.50 L127.76,203.00 L128.12,202.51 L128.48,202.02 L128.84,201.52 L129.20,201.03 L129.56,200.54 L129.92,200.05 L130.28,199.55 L130.65,199.06 L131.01,198.57 L131.38,198.08 L131.75,197.59 L132.11,197.11 L132.48,196.62 L132.85,196.13 L133.22,195.64 L133.60,195.16 L133.97,194.67 L134.34,194.19 L134.72,193.70 L135.09,193.22 L135.47,192.73 L135.85,192.25 L136.23,191.77 L136.61,191.29 L136.99,190.80 L137.37,190.32 L137.75,189.84 L138.13,189.36 L138.52,188.88 L138.90,188.41 L139.29,187.93 L139.67,187.45 L140.06,186.97 L140.45,186.50 L140.84,186.02 L141.23,185.55 L141.62,185.07 L142.01,184.60 L142.40,184.12 L142.80,183.65 L143.19,183.18 L143.58,182.71 L143.98,182.24 L144.38,181.76 L144.77,181.29 L145.17,180.82 L145.57,180.36 L145.97,179.89 L146.37,179.42 L146.77,178.95 L147.17,178.48 L147.58,178.02 L147.98,177.55 L148.38,177.09 L148.79,176.62 L149.20,176.16 L149.60,175.69 L150.01,175.23 L150.42,174.77 L150.83,174.31 L151.24,173.85 L151.65,173.39 L152.06,172.92 L152.47,172.47 L152.88,172.01 L153.29,171.55 L153.71,171.09 L154.12,170.63 L154.54,170.17 L154.95,169.72 L155.37,169.26 L155.78,168.81 L156.20,168.35 L156.62,167.90 L157.04,167.44 L157.46,166.99 L157.88,166.54 L158.30,166.09 L158.72,165.63 L159.14,165.18 L159.57,164.73 L159.99,164.28 L160.41,163.83 L160.84,163.39 L161.26,162.94 L161.69,162.49 L162.11,162.04 L162.54,161.60 L162.97,161.15 L163.40,160.70 L163.82,160.26 L164.25,159.81 L164.68,159.37 L165.11,158.93 L165.54,158.48 L165.98,158.04 L166.41,157.60 L166.84,157.16 L167.27,156.72 L167.71,156.28 L168.14,155.84 L168.57,155.40 L169.01,154.96 L169.44,154.52 L169.88,154.09 L170.32,153.65 L170.75,153.21 L171.19,152.78 L171.63,152.34 L172.07,151.91 L172.50,151.47 L172.94,151.04 L173.38,150.61 L173.82,150.17 L174.26,149.74 L174.70,149.31 L175.15,148.88 L175.59,148.45 L176.03,148.02 L176.47,147.59 L176.91,147.16 L177.36,146.73 L177.80,146.30 L178.24,145.87 L178.69,145.45 L179.13,145.02 L179.57,144.59 L180.01,144.16 L180.46,143.73 L180.90,143.30 L181.34,142.87 L181.78,142.44 L182.22,142.01 L182.66,141.58 L183.10,141.15 L183.54,140.72 L183.98,140.29 L184.42,139.86 L184.85,139.42 L185.29,138.99 L185.72,138.55 L186.15,138.12 L186.59,137.68 L187.02,137.24 L187.45,136.80 L187.87,136.36 L188.30,135.92 L188.73,135.47 L189.15,135.03 L189.57,134.58 L189.99,134.13 L190.41,133.68 L190.83,133.23 L191.24,132.78 L191.66,132.32 L192.07,131.86 L192.48,131.41 L192.89,130.95 L193.29,130.48 L193.70,130.02 L194.10,129.56 L194.51,129.09 L194.91,128.63 L195.31,128.16 L195.71,127.69 L196.11,127.22 L196.51,126.75 L196.90,126.28 L197.30,125.81 L197.70,125.34 L198.09,124.87 L198.49,124.39 L198.88,123.92 L199.28,123.45 L199.67,122.98 L200.07,122.50 L200.46,122.03 L200.86,121.56 L201.25,121.09 L201.65,120.61 L202.04,120.14 L202.44,119.67 L202.84,119.20 L203.24,118.73 L203.63,118.26 L204.03,117.79 L204.43,117.32 L204.84,116.86 L205.24,116.39 L205.64,115.93 L206.05,115.47 L206.45,115.00 L206.86,114.54 L207.27,114.09 L207.68,113.63 L208.09,113.17 L208.51,112.72 L208.92,112.27 L209.34,111.82 L209.76,111.37 L210.18,110.92 L210.61,110.48 L211.03,110.03 L211.46,109.59 L211.89,109.15 L212.32,108.71 L212.75,108.28 L213.18,107.84 L213.62,107.41 L214.05,106.98 L214.49,106.55 L214.93,106.12 L215.37,105.69 L215.82,105.26 L216.26,104.84 L216.70,104.42 L217.15,103.99 L217.60,103.57 L218.05,103.15 L218.50,102.73 L218.95,102.32 L219.40,101.90 L219.86,101.49 L220.31,101.07 L220.77,100.66 L221.23,100.25 L221.68,99.84 L222.14,99.43 L222.60,99.02 L223.06,98.61 L223.53,98.20 L223.99,97.80 L224.45,97.39 L224.92,96.99 L225.38,96.59 L225.85,96.18 L226.32,95.78 L226.79,95.38 L227.25,94.98 L227.72,94.58 L228.19,94.18 L228.66,93.78 L229.14,93.38 L229.61,92.99 L230.08,92.59 L230.55,92.19 L231.02,91.80 L231.50,91.40 L231.97,91.00 L232.45,90.61 L232.92,90.22 L233.40,89.82 L233.87,89.43 L234.35,89.03 L234.82,88.64 L235.30,88.25 L235.77,87.85 L236.25,87.46 L236.73,87.07 L237.20,86.68 L237.68,86.28 L238.16,85.89 L238.63,85.50 L239.11,85.11 L239.58,84.71 L240.06,84.32 L240.54,83.93 L241.01,83.53 L241.49,83.14 L241.96,82.75 L242.44,82.36 L242.92,81.96 L243.39,81.57 L243.87,81.18 L244.34,80.79 L244.82,80.39 L245.30,80.00 L245.77,79.61 L246.25,79.22 L246.73,78.83 L247.20,78.44 L247.68,78.05 L248.16,77.66 L248.63,77.27 L249.11,76.88 L249.59,76.49 L250.07,76.10 L250.55,75.71 L251.03,75.33 L251.51,74.94 L251.99,74.55 L252.47,74.17 L252.95,73.78 L253.43,73.40 L253.91,73.01 L254.39,72.63 L254.87,72.25 L255.36,71.87 L255.84,71.49 L256.33,71.11 L256.81,70.73 L257.30,70.35 L257.78,69.98 L258.27,69.60 L258.76,69.23 L259.25,68.85 L259.73,68.48 L260.22,68.11 L260.71,67.74 L261.21,67.37 L261.70,67.00 L262.19,66.63 L262.68,66.27 L263.18,65.90 L263.67,65.54 L264.17,65.17 L264.67,64.81 L265.16,64.45 L265.66,64.09 L266.16,63.73 L266.66,63.37 L267.16,63.02 L267.66,62.66 L268.16,62.31 L268.66,61.95 L269.16,61.60 L269.67,61.24 L270.17,60.89 L270.67,60.54 L271.18,60.19 L271.68,59.84 L272.19,59.49 L272.69,59.14 L273.20,58.79 L273.71,58.44 L274.21,58.10 L274.72,57.75 L275.23,57.40 L275.74,57.06 L276.25,56.71 L276.75,56.37 L277.26,56.03 L277.77,55.68 L278.28,55.34 L278.79,55.00 L279.30,54.65 L279.81,54.31 L280.32,53.97 L280.84,53.63 L281.35,53.29 L281.86,52.95 L282.37,52.61 L282.88,52.27 L283.39,51.93 L283.91,51.59 L284.42,51.25 L284.93,50.91 L285.44,50.57 L285.96,50.23 L286.47,49.89 L286.98,49.55 L287.50,49.21 L288.01,48.87 L288.52,48.53 L289.03,48.19 L289.55,47.85 L290.06,47.51 L290.57,47.18 L291.08,46.84 L291.60,46.50 L292.11,46.16 L292.62,45.82 L293.13,45.48 L293.65,45.13 L294.16,44.79 L294.67,44.45 L295.18,44.11 L295.69,43.77 L296.20,43.43 L296.72,43.08 L297.23,42.74 L297.74,42.40 L298.25,42.06 L298.76,41.71 L299.27,41.37 L299.78,41.02 L300.29,40.68 L300.79,40.33 L301.30,39.98 L301.81,39.64 L302.32,39.29 L302.82,38.94 L303.33,38.59 L303.84,38.24 L304.34,37.89 L304.85,37.54 L305.35,37.19 L305.86,36.83 L306.36,36.48 L306.87,36.13 L307.37,35.77 L307.87,35.42 L308.37,35.06 L308.87,34.70 L309.37,34.34 L309.87,33.98 L310.37,33.62 L310.87,33.26 L311.37,32.90 L311.87,32.54 L312.36,32.17 L312.86,31.81 L313.36,31.44 L313.85,31.07 L314.34,30.70 L314.84,30.34 L315.33,29.96 L315.82,29.59 L316.31,29.22 L316.80,28.84 L317.29,28.47 L317.78,28.09 L318.27,27.71 L318.75,27.33 L319.24,26.95 L319.72,26.57 L320.21,26.19 L320.69,25.80 L321.17,25.41 L321.65,25.03 L322.13,24.64 L322.61,24.25 L323.09,23.85 L323.57,23.46" fill="none" stroke="#000" stroke-width="1.7" stroke-linejoin="round" stroke-linecap="round"/>
</g>
<g clip-path="url(#clipB)">
<g fill="#1B9E77"><circle cx="413.30" cy="61.00" r="3.25"/><circle cx="416.91" cy="61.64" r="3.25"/><circle cx="420.51" cy="62.38" r="3.25"/><circle cx="424.12" cy="63.21" r="3.25"/><circle cx="427.73" cy="64.14" r="3.25"/><circle cx="431.34" cy="65.22" r="3.25"/><circle cx="434.94" cy="66.43" r="3.25"/><circle cx="438.55" cy="67.65" r="3.25"/><circle cx="442.16" cy="68.90" r="3.25"/><circle cx="445.76" cy="70.17" r="3.25"/><circle cx="449.37" cy="71.42" r="3.25"/><circle cx="452.98" cy="72.72" r="3.25"/><circle cx="456.58" cy="74.20" r="3.25"/><circle cx="460.19" cy="75.84" r="3.25"/><circle cx="463.80" cy="77.53" r="3.25"/><circle cx="467.41" cy="79.25" r="3.25"/><circle cx="471.01" cy="81.03" r="3.25"/><circle cx="474.62" cy="82.96" r="3.25"/><circle cx="478.23" cy="85.03" r="3.25"/><circle cx="481.83" cy="86.94" r="3.25"/><circle cx="485.44" cy="88.70" r="3.25"/><circle cx="489.05" cy="90.52" r="3.25"/><circle cx="492.65" cy="92.55" r="3.25"/><circle cx="496.26" cy="94.69" r="3.25"/><circle cx="499.87" cy="96.83" r="3.25"/><circle cx="503.48" cy="98.98" r="3.25"/><circle cx="507.08" cy="101.15" r="3.25"/><circle cx="510.69" cy="103.34" r="3.25"/><circle cx="514.30" cy="105.55" r="3.25"/><circle cx="517.90" cy="107.76" r="3.25"/><circle cx="521.51" cy="109.98" r="3.25"/><circle cx="525.12" cy="112.19" r="3.25"/><circle cx="528.72" cy="114.29" r="3.25"/><circle cx="532.33" cy="116.27" r="3.25"/><circle cx="535.94" cy="118.21" r="3.25"/><circle cx="539.55" cy="120.13" r="3.25"/><circle cx="543.15" cy="122.04" r="3.25"/><circle cx="546.76" cy="123.95" r="3.25"/><circle cx="550.37" cy="125.84" r="3.25"/><circle cx="553.97" cy="127.76" r="3.25"/><circle cx="557.58" cy="129.71" r="3.25"/><circle cx="561.19" cy="131.68" r="3.25"/><circle cx="564.79" cy="133.70" r="3.25"/><circle cx="568.40" cy="135.76" r="3.25"/><circle cx="572.01" cy="137.59" r="3.25"/><circle cx="575.62" cy="139.13" r="3.25"/><circle cx="579.22" cy="140.31" r="3.25"/><circle cx="582.83" cy="141.14" r="3.25"/><circle cx="586.44" cy="141.68" r="3.25"/><circle cx="590.04" cy="142.00" r="3.25"/><circle cx="593.65" cy="142.18" r="3.25"/><circle cx="597.26" cy="142.30" r="3.25"/><circle cx="600.86" cy="142.36" r="3.25"/><circle cx="604.47" cy="142.40" r="3.25"/><circle cx="608.08" cy="142.44" r="3.25"/><circle cx="611.69" cy="142.46" r="3.25"/><circle cx="615.29" cy="142.48" r="3.25"/><circle cx="618.90" cy="142.49" r="3.25"/><circle cx="622.51" cy="142.51" r="3.25"/><circle cx="626.11" cy="142.53" r="3.25"/><circle cx="629.72" cy="142.55" r="3.25"/><circle cx="633.33" cy="142.57" r="3.25"/><circle cx="636.93" cy="142.59" r="3.25"/><circle cx="640.54" cy="142.60" r="3.25"/><circle cx="644.15" cy="142.60" r="3.25"/><circle cx="647.75" cy="142.60" r="3.25"/><circle cx="651.36" cy="142.60" r="3.25"/><circle cx="654.97" cy="142.60" r="3.25"/><circle cx="658.58" cy="142.60" r="3.25"/><circle cx="662.18" cy="142.60" r="3.25"/><circle cx="665.79" cy="142.60" r="3.25"/></g>
<g fill="#D95F02"><circle cx="413.30" cy="32.91" r="3.25"/><circle cx="416.91" cy="33.65" r="3.25"/><circle cx="420.51" cy="34.45" r="3.25"/><circle cx="424.12" cy="35.30" r="3.25"/><circle cx="427.73" cy="36.20" r="3.25"/><circle cx="431.34" cy="37.14" r="3.25"/><circle cx="434.94" cy="38.13" r="3.25"/><circle cx="438.55" cy="39.17" r="3.25"/><circle cx="442.16" cy="40.24" r="3.25"/><circle cx="445.76" cy="41.36" r="3.25"/><circle cx="449.37" cy="42.51" r="3.25"/><circle cx="452.98" cy="43.71" r="3.25"/><circle cx="456.58" cy="44.93" r="3.25"/><circle cx="460.19" cy="46.19" r="3.25"/><circle cx="463.80" cy="47.48" r="3.25"/><circle cx="467.41" cy="48.80" r="3.25"/><circle cx="471.01" cy="50.15" r="3.25"/><circle cx="474.62" cy="51.53" r="3.25"/><circle cx="478.23" cy="52.93" r="3.25"/><circle cx="481.83" cy="54.36" r="3.25"/><circle cx="485.44" cy="55.80" r="3.25"/><circle cx="489.05" cy="57.27" r="3.25"/><circle cx="492.65" cy="58.75" r="3.25"/><circle cx="496.26" cy="60.25" r="3.25"/><circle cx="499.87" cy="61.77" r="3.25"/><circle cx="503.48" cy="63.30" r="3.25"/><circle cx="507.08" cy="64.84" r="3.25"/><circle cx="510.69" cy="66.38" r="3.25"/><circle cx="514.30" cy="67.94" r="3.25"/><circle cx="517.90" cy="69.51" r="3.25"/><circle cx="521.51" cy="71.07" r="3.25"/><circle cx="525.12" cy="72.65" r="3.25"/><circle cx="528.72" cy="74.22" r="3.25"/><circle cx="532.33" cy="75.79" r="3.25"/><circle cx="535.94" cy="77.36" r="3.25"/><circle cx="539.55" cy="78.93" r="3.25"/><circle cx="543.15" cy="80.49" r="3.25"/><circle cx="546.76" cy="82.04" r="3.25"/><circle cx="550.37" cy="83.59" r="3.25"/><circle cx="553.97" cy="85.14" r="3.25"/><circle cx="557.58" cy="86.68" r="3.25"/><circle cx="561.19" cy="88.22" r="3.25"/><circle cx="564.79" cy="89.75" r="3.25"/><circle cx="568.40" cy="91.29" r="3.25"/><circle cx="572.01" cy="92.81" r="3.25"/><circle cx="575.62" cy="94.34" r="3.25"/><circle cx="579.22" cy="95.86" r="3.25"/><circle cx="582.83" cy="97.38" r="3.25"/><circle cx="586.44" cy="98.89" r="3.25"/><circle cx="590.04" cy="100.41" r="3.25"/><circle cx="593.65" cy="101.92" r="3.25"/><circle cx="597.26" cy="103.43" r="3.25"/><circle cx="600.86" cy="104.94" r="3.25"/><circle cx="604.47" cy="106.45" r="3.25"/><circle cx="608.08" cy="107.96" r="3.25"/><circle cx="611.69" cy="109.46" r="3.25"/><circle cx="615.29" cy="110.97" r="3.25"/><circle cx="618.90" cy="112.48" r="3.25"/><circle cx="622.51" cy="113.98" r="3.25"/><circle cx="626.11" cy="115.49" r="3.25"/><circle cx="629.72" cy="117.00" r="3.25"/><circle cx="633.33" cy="118.51" r="3.25"/><circle cx="636.93" cy="120.02" r="3.25"/><circle cx="640.54" cy="121.53" r="3.25"/><circle cx="644.15" cy="123.04" r="3.25"/><circle cx="647.75" cy="124.56" r="3.25"/><circle cx="651.36" cy="126.08" r="3.25"/><circle cx="654.97" cy="127.60" r="3.25"/><circle cx="658.58" cy="129.12" r="3.25"/><circle cx="662.18" cy="130.65" r="3.25"/><circle cx="665.79" cy="132.18" r="3.25"/></g>
<g fill="#7570B3"><circle cx="413.30" cy="12.76" r="3.25"/><circle cx="416.91" cy="14.42" r="3.25"/><circle cx="420.51" cy="16.03" r="3.25"/><circle cx="424.12" cy="17.58" r="3.25"/><circle cx="427.73" cy="19.09" r="3.25"/><circle cx="431.34" cy="20.54" r="3.25"/><circle cx="434.94" cy="21.94" r="3.25"/><circle cx="438.55" cy="23.29" r="3.25"/><circle cx="442.16" cy="24.58" r="3.25"/><circle cx="445.76" cy="25.82" r="3.25"/><circle cx="449.37" cy="27.01" r="3.25"/><circle cx="452.98" cy="28.15" r="3.25"/><circle cx="456.58" cy="29.23" r="3.25"/><circle cx="460.19" cy="30.27" r="3.25"/><circle cx="463.80" cy="31.25" r="3.25"/><circle cx="467.41" cy="32.18" r="3.25"/><circle cx="471.01" cy="33.05" r="3.25"/><circle cx="474.62" cy="33.88" r="3.25"/><circle cx="478.23" cy="42.78" r="3.25"/><circle cx="481.83" cy="44.60" r="3.25"/><circle cx="485.44" cy="46.43" r="3.25"/><circle cx="489.05" cy="48.27" r="3.25"/><circle cx="492.65" cy="50.13" r="3.25"/><circle cx="496.26" cy="51.99" r="3.25"/><circle cx="499.87" cy="53.87" r="3.25"/><circle cx="503.48" cy="55.76" r="3.25"/><circle cx="507.08" cy="57.66" r="3.25"/><circle cx="510.69" cy="59.57" r="3.25"/><circle cx="514.30" cy="61.49" r="3.25"/><circle cx="517.90" cy="63.42" r="3.25"/><circle cx="521.51" cy="65.36" r="3.25"/><circle cx="525.12" cy="67.30" r="3.25"/><circle cx="528.72" cy="69.26" r="3.25"/><circle cx="532.33" cy="71.23" r="3.25"/><circle cx="535.94" cy="73.20" r="3.25"/><circle cx="539.55" cy="75.18" r="3.25"/><circle cx="543.15" cy="77.17" r="3.25"/><circle cx="546.76" cy="79.17" r="3.25"/><circle cx="550.37" cy="81.18" r="3.25"/><circle cx="553.97" cy="83.19" r="3.25"/><circle cx="557.58" cy="85.21" r="3.25"/><circle cx="561.19" cy="87.23" r="3.25"/><circle cx="564.79" cy="89.26" r="3.25"/><circle cx="568.40" cy="91.30" r="3.25"/><circle cx="572.01" cy="93.34" r="3.25"/><circle cx="575.62" cy="95.39" r="3.25"/><circle cx="579.22" cy="97.44" r="3.25"/><circle cx="582.83" cy="99.49" r="3.25"/><circle cx="586.44" cy="101.53" r="3.25"/><circle cx="590.04" cy="103.58" r="3.25"/><circle cx="593.65" cy="105.61" r="3.25"/><circle cx="597.26" cy="107.65" r="3.25"/><circle cx="600.86" cy="109.67" r="3.25"/><circle cx="604.47" cy="111.68" r="3.25"/><circle cx="608.08" cy="113.67" r="3.25"/><circle cx="611.69" cy="115.65" r="3.25"/><circle cx="615.29" cy="117.61" r="3.25"/><circle cx="618.90" cy="119.55" r="3.25"/><circle cx="622.51" cy="121.48" r="3.25"/><circle cx="626.11" cy="123.37" r="3.25"/><circle cx="629.72" cy="125.24" r="3.25"/><circle cx="633.33" cy="127.09" r="3.25"/><circle cx="636.93" cy="128.90" r="3.25"/><circle cx="640.54" cy="130.68" r="3.25"/><circle cx="644.15" cy="132.43" r="3.25"/><circle cx="647.75" cy="134.14" r="3.25"/><circle cx="651.36" cy="135.82" r="3.25"/><circle cx="654.97" cy="137.45" r="3.25"/><circle cx="658.58" cy="139.04" r="3.25"/><circle cx="662.18" cy="140.59" r="3.25"/><circle cx="665.79" cy="142.09" r="3.25"/><circle cx="466.00" cy="30.60" r="3.25"/><circle cx="470.00" cy="31.60" r="3.25"/><circle cx="473.50" cy="32.30" r="3.25"/><circle cx="476.20" cy="33.90" r="3.25"/></g>
<path d="M413.30,61.00 L413.93,61.11 L414.57,61.21 L415.20,61.33 L415.83,61.44 L416.46,61.56 L417.10,61.68 L417.73,61.80 L418.36,61.93 L419.00,62.06 L419.63,62.19 L420.26,62.33 L420.89,62.46 L421.53,62.60 L422.16,62.75 L422.79,62.89 L423.43,63.04 L424.06,63.20 L424.69,63.35 L425.32,63.51 L425.96,63.67 L426.59,63.84 L427.22,64.01 L427.86,64.18 L428.49,64.35 L429.12,64.53 L429.75,64.72 L430.39,64.92 L431.02,65.12 L431.65,65.32 L432.28,65.53 L432.92,65.74 L433.55,65.95 L434.18,66.17 L434.82,66.38 L435.45,66.60 L436.08,66.82 L436.71,67.03 L437.35,67.25 L437.98,67.46 L438.61,67.68 L439.25,67.89 L439.88,68.11 L440.51,68.33 L441.14,68.55 L441.78,68.77 L442.41,68.99 L443.04,69.21 L443.68,69.43 L444.31,69.66 L444.94,69.88 L445.57,70.10 L446.21,70.32 L446.84,70.54 L447.47,70.76 L448.11,70.98 L448.74,71.20 L449.37,71.42 L450.00,71.64 L450.64,71.86 L451.27,72.09 L451.90,72.32 L452.54,72.56 L453.17,72.80 L453.80,73.04 L454.43,73.29 L455.07,73.55 L455.70,73.82 L456.33,74.09 L456.97,74.37 L457.60,74.65 L458.23,74.93 L458.86,75.22 L459.50,75.52 L460.13,75.81 L460.76,76.11 L461.40,76.40 L462.03,76.70 L462.66,77.00 L463.29,77.30 L463.93,77.59 L464.56,77.89 L465.19,78.19 L465.83,78.49 L466.46,78.79 L467.09,79.10 L467.72,79.40 L468.36,79.71 L468.99,80.02 L469.62,80.33 L470.25,80.65 L470.89,80.97 L471.52,81.29 L472.15,81.62 L472.79,81.95 L473.42,82.29 L474.05,82.64 L474.68,83.00 L475.32,83.36 L475.95,83.72 L476.58,84.09 L477.22,84.45 L477.85,84.81 L478.48,85.17 L479.11,85.52 L479.75,85.87 L480.38,86.20 L481.01,86.53 L481.65,86.85 L482.28,87.16 L482.91,87.47 L483.54,87.78 L484.18,88.09 L484.81,88.39 L485.44,88.70 L486.08,89.01 L486.71,89.32 L487.34,89.63 L487.97,89.96 L488.61,90.28 L489.24,90.62 L489.87,90.97 L490.51,91.32 L491.14,91.67 L491.77,92.03 L492.40,92.40 L493.04,92.77 L493.67,93.14 L494.30,93.52 L494.94,93.90 L495.57,94.27 L496.20,94.65 L496.83,95.03 L497.47,95.41 L498.10,95.78 L498.73,96.16 L499.37,96.53 L500.00,96.90 L500.63,97.28 L501.26,97.66 L501.90,98.03 L502.53,98.41 L503.16,98.79 L503.79,99.17 L504.43,99.55 L505.06,99.93 L505.69,100.31 L506.33,100.69 L506.96,101.07 L507.59,101.46 L508.22,101.84 L508.86,102.22 L509.49,102.61 L510.12,102.99 L510.76,103.38 L511.39,103.77 L512.02,104.15 L512.65,104.54 L513.29,104.93 L513.92,105.32 L514.55,105.71 L515.19,106.09 L515.82,106.48 L516.45,106.87 L517.08,107.26 L517.72,107.64 L518.35,108.03 L518.98,108.42 L519.62,108.81 L520.25,109.20 L520.88,109.59 L521.51,109.98 L522.15,110.37 L522.78,110.77 L523.41,111.16 L524.05,111.54 L524.68,111.93 L525.31,112.31 L525.94,112.69 L526.58,113.06 L527.21,113.43 L527.84,113.80 L528.48,114.15 L529.11,114.51 L529.74,114.86 L530.37,115.21 L531.01,115.55 L531.64,115.89 L532.27,116.23 L532.91,116.57 L533.54,116.91 L534.17,117.25 L534.80,117.59 L535.44,117.94 L536.07,118.28 L536.70,118.62 L537.34,118.95 L537.97,119.29 L538.60,119.63 L539.23,119.97 L539.87,120.30 L540.50,120.64 L541.13,120.97 L541.76,121.31 L542.40,121.65 L543.03,121.98 L543.66,122.32 L544.30,122.65 L544.93,122.99 L545.56,123.32 L546.19,123.65 L546.83,123.99 L547.46,124.32 L548.09,124.65 L548.73,124.98 L549.36,125.31 L549.99,125.65 L550.62,125.98 L551.26,126.31 L551.89,126.65 L552.52,126.99 L553.16,127.32 L553.79,127.66 L554.42,128.00 L555.05,128.34 L555.69,128.68 L556.32,129.02 L556.95,129.37 L557.59,129.71 L558.22,130.05 L558.85,130.40 L559.48,130.74 L560.12,131.09 L560.75,131.44 L561.38,131.78 L562.02,132.13 L562.65,132.48 L563.28,132.84 L563.91,133.20 L564.55,133.56 L565.18,133.93 L565.81,134.29 L566.45,134.66 L567.08,135.02 L567.71,135.38 L568.34,135.73 L568.98,136.07 L569.61,136.40 L570.24,136.72 L570.88,137.04 L571.51,137.35 L572.14,137.65 L572.77,137.95 L573.41,138.24 L574.04,138.51 L574.67,138.77 L575.31,139.02 L575.94,139.25 L576.57,139.48 L577.20,139.70 L577.84,139.91 L578.47,140.10 L579.10,140.27 L579.73,140.44 L580.37,140.59 L581.00,140.74 L581.63,140.89 L582.27,141.03 L582.90,141.15 L583.53,141.27 L584.16,141.38 L584.80,141.47 L585.43,141.56 L586.06,141.64 L586.70,141.71 L587.33,141.78 L587.96,141.84 L588.59,141.90 L589.23,141.95 L589.86,141.99 L590.49,142.03 L591.13,142.06 L591.76,142.10 L592.39,142.13 L593.02,142.16 L593.66,142.18 L594.29,142.21 L594.92,142.23 L595.56,142.25 L596.19,142.27 L596.82,142.29 L597.45,142.30 L598.09,142.31 L598.72,142.32 L599.35,142.33 L599.99,142.34 L600.62,142.35 L601.25,142.36 L601.88,142.37 L602.52,142.38 L603.15,142.39 L603.78,142.39 L604.42,142.40 L605.05,142.41 L605.68,142.41 L606.31,142.42 L606.95,142.43 L607.58,142.43 L608.21,142.44 L608.85,142.44 L609.48,142.45 L610.11,142.45 L610.74,142.45 L611.38,142.46 L612.01,142.46 L612.64,142.47 L613.27,142.47 L613.91,142.47 L614.54,142.48 L615.17,142.48 L615.81,142.48 L616.44,142.48 L617.07,142.49 L617.70,142.49 L618.34,142.49 L618.97,142.50 L619.60,142.50 L620.24,142.50 L620.87,142.50 L621.50,142.51 L622.13,142.51 L622.77,142.51 L623.40,142.52 L624.03,142.52 L624.67,142.52 L625.30,142.53 L625.93,142.53 L626.56,142.53 L627.20,142.54 L627.83,142.54 L628.46,142.54 L629.10,142.55 L629.73,142.55 L630.36,142.55 L630.99,142.56 L631.63,142.56 L632.26,142.56 L632.89,142.57 L633.53,142.57 L634.16,142.58 L634.79,142.58 L635.42,142.58 L636.06,142.59 L636.69,142.59 L637.32,142.59 L637.96,142.60 L638.59,142.60 L639.22,142.60 L639.85,142.60 L640.49,142.60 L641.12,142.60 L641.75,142.60 L642.39,142.60 L643.02,142.60 L643.65,142.60 L644.28,142.60 L644.92,142.60 L645.55,142.60 L646.18,142.60 L646.82,142.60 L647.45,142.60 L648.08,142.60 L648.71,142.60 L649.35,142.60 L649.98,142.60 L650.61,142.60 L651.24,142.60 L651.88,142.60 L652.51,142.60 L653.14,142.60 L653.78,142.60 L654.41,142.60 L655.04,142.60 L655.67,142.60 L656.31,142.60 L656.94,142.60 L657.57,142.60 L658.21,142.60 L658.84,142.60 L659.47,142.60 L660.10,142.60 L660.74,142.60 L661.37,142.60 L662.00,142.60 L662.64,142.60 L663.27,142.60 L663.90,142.60 L664.53,142.60 L665.17,142.60 L665.80,142.60" fill="none" stroke="#000" stroke-width="1.7" stroke-linejoin="round"/>
<path d="M413.30,33.21 L413.93,33.34 L414.57,33.46 L415.20,33.59 L415.83,33.73 L416.46,33.86 L417.10,34.00 L417.73,34.13 L418.36,34.27 L419.00,34.41 L419.63,34.55 L420.26,34.70 L420.89,34.84 L421.53,34.99 L422.16,35.13 L422.79,35.28 L423.43,35.43 L424.06,35.59 L424.69,35.74 L425.32,35.90 L425.96,36.05 L426.59,36.21 L427.22,36.37 L427.86,36.53 L428.49,36.70 L429.12,36.86 L429.75,37.03 L430.39,37.19 L431.02,37.36 L431.65,37.53 L432.28,37.70 L432.92,37.87 L433.55,38.05 L434.18,38.22 L434.82,38.40 L435.45,38.58 L436.08,38.76 L436.71,38.94 L437.35,39.12 L437.98,39.30 L438.61,39.49 L439.25,39.67 L439.88,39.86 L440.51,40.05 L441.14,40.24 L441.78,40.43 L442.41,40.62 L443.04,40.81 L443.68,41.01 L444.31,41.21 L444.94,41.40 L445.57,41.60 L446.21,41.80 L446.84,42.00 L447.47,42.20 L448.11,42.41 L448.74,42.61 L449.37,42.81 L450.00,43.02 L450.64,43.23 L451.27,43.44 L451.90,43.65 L452.54,43.86 L453.17,44.07 L453.80,44.28 L454.43,44.50 L455.07,44.71 L455.70,44.93 L456.33,45.14 L456.97,45.36 L457.60,45.58 L458.23,45.80 L458.86,46.02 L459.50,46.25 L460.13,46.47 L460.76,46.69 L461.40,46.92 L462.03,47.14 L462.66,47.37 L463.29,47.60 L463.93,47.83 L464.56,48.06 L465.19,48.29 L465.83,48.52 L466.46,48.75 L467.09,48.99 L467.72,49.22 L468.36,49.46 L468.99,49.69 L469.62,49.93 L470.25,50.17 L470.89,50.41 L471.52,50.65 L472.15,50.89 L472.79,51.13 L473.42,51.37 L474.05,51.61 L474.68,51.85 L475.32,52.10 L475.95,52.34 L476.58,52.59 L477.22,52.84 L477.85,53.08 L478.48,53.33 L479.11,53.58 L479.75,53.83 L480.38,54.08 L481.01,54.33 L481.65,54.58 L482.28,54.83 L482.91,55.09 L483.54,55.34 L484.18,55.59 L484.81,55.85 L485.44,56.10 L486.08,56.36 L486.71,56.61 L487.34,56.87 L487.97,57.13 L488.61,57.39 L489.24,57.65 L489.87,57.91 L490.51,58.17 L491.14,58.43 L491.77,58.69 L492.40,58.95 L493.04,59.21 L493.67,59.47 L494.30,59.74 L494.94,60.00 L495.57,60.26 L496.20,60.53 L496.83,60.79 L497.47,61.06 L498.10,61.32 L498.73,61.59 L499.37,61.86 L500.00,62.12 L500.63,62.39 L501.26,62.66 L501.90,62.93 L502.53,63.19 L503.16,63.46 L503.79,63.73 L504.43,64.00 L505.06,64.27 L505.69,64.54 L506.33,64.81 L506.96,65.08 L507.59,65.35 L508.22,65.63 L508.86,65.90 L509.49,66.17 L510.12,66.44 L510.76,66.71 L511.39,66.99 L512.02,67.26 L512.65,67.53 L513.29,67.81 L513.92,68.08 L514.55,68.35 L515.19,68.63 L515.82,68.90 L516.45,69.18 L517.08,69.45 L517.72,69.73 L518.35,70.00 L518.98,70.28 L519.62,70.55 L520.25,70.83 L520.88,71.10 L521.51,71.38 L522.15,71.65 L522.78,71.93 L523.41,72.20 L524.05,72.48 L524.68,72.75 L525.31,73.03 L525.94,73.31 L526.58,73.58 L527.21,73.86 L527.84,74.13 L528.48,74.41 L529.11,74.69 L529.74,74.96 L530.37,75.24 L531.01,75.51 L531.64,75.79 L532.27,76.07 L532.91,76.34 L533.54,76.62 L534.17,76.89 L534.80,77.17 L535.44,77.44 L536.07,77.72 L536.70,77.99 L537.34,78.27 L537.97,78.54 L538.60,78.82 L539.23,79.09 L539.87,79.37 L540.50,79.64 L541.13,79.91 L541.76,80.19 L542.40,80.46 L543.03,80.74 L543.66,81.01 L544.30,81.28 L544.93,81.55 L545.56,81.83 L546.19,82.10 L546.83,82.37 L547.46,82.65 L548.09,82.92 L548.73,83.19 L549.36,83.46 L549.99,83.73 L550.62,84.01 L551.26,84.28 L551.89,84.55 L552.52,84.82 L553.16,85.09 L553.79,85.36 L554.42,85.63 L555.05,85.90 L555.69,86.17 L556.32,86.44 L556.95,86.71 L557.59,86.99 L558.22,87.26 L558.85,87.53 L559.48,87.80 L560.12,88.06 L560.75,88.33 L561.38,88.60 L562.02,88.87 L562.65,89.14 L563.28,89.41 L563.91,89.68 L564.55,89.95 L565.18,90.22 L565.81,90.49 L566.45,90.76 L567.08,91.02 L567.71,91.29 L568.34,91.56 L568.98,91.83 L569.61,92.10 L570.24,92.37 L570.88,92.63 L571.51,92.90 L572.14,93.17 L572.77,93.44 L573.41,93.70 L574.04,93.97 L574.67,94.24 L575.31,94.51 L575.94,94.77 L576.57,95.04 L577.20,95.31 L577.84,95.57 L578.47,95.84 L579.10,96.11 L579.73,96.37 L580.37,96.64 L581.00,96.91 L581.63,97.17 L582.27,97.44 L582.90,97.71 L583.53,97.97 L584.16,98.24 L584.80,98.50 L585.43,98.77 L586.06,99.04 L586.70,99.30 L587.33,99.57 L587.96,99.83 L588.59,100.10 L589.23,100.36 L589.86,100.63 L590.49,100.90 L591.13,101.16 L591.76,101.43 L592.39,101.69 L593.02,101.96 L593.66,102.22 L594.29,102.49 L594.92,102.75 L595.56,103.02 L596.19,103.28 L596.82,103.55 L597.45,103.81 L598.09,104.08 L598.72,104.34 L599.35,104.61 L599.99,104.87 L600.62,105.14 L601.25,105.40 L601.88,105.67 L602.52,105.93 L603.15,106.20 L603.78,106.46 L604.42,106.72 L605.05,106.99 L605.68,107.25 L606.31,107.52 L606.95,107.78 L607.58,108.05 L608.21,108.31 L608.85,108.58 L609.48,108.84 L610.11,109.10 L610.74,109.37 L611.38,109.63 L612.01,109.90 L612.64,110.16 L613.27,110.43 L613.91,110.69 L614.54,110.96 L615.17,111.22 L615.81,111.48 L616.44,111.75 L617.07,112.01 L617.70,112.28 L618.34,112.54 L618.97,112.81 L619.60,113.07 L620.24,113.33 L620.87,113.60 L621.50,113.86 L622.13,114.13 L622.77,114.39 L623.40,114.66 L624.03,114.92 L624.67,115.19 L625.30,115.45 L625.93,115.71 L626.56,115.98 L627.20,116.24 L627.83,116.51 L628.46,116.77 L629.10,117.04 L629.73,117.30 L630.36,117.57 L630.99,117.83 L631.63,118.10 L632.26,118.36 L632.89,118.63 L633.53,118.89 L634.16,119.16 L634.79,119.42 L635.42,119.69 L636.06,119.95 L636.69,120.22 L637.32,120.48 L637.96,120.75 L638.59,121.01 L639.22,121.28 L639.85,121.54 L640.49,121.81 L641.12,122.07 L641.75,122.34 L642.39,122.60 L643.02,122.87 L643.65,123.14 L644.28,123.40 L644.92,123.67 L645.55,123.93 L646.18,124.20 L646.82,124.46 L647.45,124.73 L648.08,125.00 L648.71,125.26 L649.35,125.53 L649.98,125.80 L650.61,126.06 L651.24,126.33 L651.88,126.59 L652.51,126.86 L653.14,127.13 L653.78,127.39 L654.41,127.66 L655.04,127.93 L655.67,128.20 L656.31,128.46 L656.94,128.73 L657.57,129.00 L658.21,129.26 L658.84,129.53 L659.47,129.80 L660.10,130.07 L660.74,130.34 L661.37,130.60 L662.00,130.87 L662.64,131.14 L663.27,131.41 L663.90,131.68 L664.53,131.94 L665.17,132.21 L665.80,132.48" fill="none" stroke="#000" stroke-width="1.7" stroke-linejoin="round"/>
<path d="M413.30,14.23 L413.93,14.41 L414.57,14.60 L415.20,14.79 L415.83,14.98 L416.46,15.17 L417.10,15.37 L417.73,15.56 L418.36,15.76 L419.00,15.96 L419.63,16.16 L420.26,16.37 L420.89,16.57 L421.53,16.78 L422.16,16.99 L422.79,17.20 L423.43,17.41 L424.06,17.62 L424.69,17.84 L425.32,18.05 L425.96,18.27 L426.59,18.49 L427.22,18.71 L427.86,18.94 L428.49,19.16 L429.12,19.39 L429.75,19.62 L430.39,19.85 L431.02,20.08 L431.65,20.31 L432.28,20.55 L432.92,20.78 L433.55,21.02 L434.18,21.26 L434.82,21.50 L435.45,21.74 L436.08,21.99 L436.71,22.23 L437.35,22.48 L437.98,22.72 L438.61,22.97 L439.25,23.22 L439.88,23.48 L440.51,23.73 L441.14,23.98 L441.78,24.24 L442.41,24.50 L443.04,24.76 L443.68,25.02 L444.31,25.28 L444.94,25.54 L445.57,25.81 L446.21,26.07 L446.84,26.34 L447.47,26.61 L448.11,26.88 L448.74,27.15 L449.37,27.42 L450.00,27.69 L450.64,27.97 L451.27,28.24 L451.90,28.52 L452.54,28.80 L453.17,29.08 L453.80,29.36 L454.43,29.64 L455.07,29.92 L455.70,30.20 L456.33,30.49 L456.97,30.77 L457.60,31.06 L458.23,31.35 L458.86,31.64 L459.50,31.93 L460.13,32.22 L460.76,32.51 L461.40,32.81 L462.03,33.10 L462.66,33.40 L463.29,33.69 L463.93,33.99 L464.56,34.29 L465.19,34.59 L465.83,34.89 L466.46,35.19 L467.09,35.49 L467.72,35.80 L468.36,36.10 L468.99,36.41 L469.62,36.71 L470.25,37.02 L470.89,37.33 L471.52,37.63 L472.15,37.94 L472.79,38.25 L473.42,38.57 L474.05,38.88 L474.68,39.19 L475.32,39.50 L475.95,39.82 L476.58,40.13 L477.22,40.45 L477.85,40.77 L478.48,41.08 L479.11,41.40 L479.75,41.72 L480.38,42.04 L481.01,42.36 L481.65,42.68 L482.28,43.00 L482.91,43.33 L483.54,43.65 L484.18,43.97 L484.81,44.30 L485.44,44.62 L486.08,44.95 L486.71,45.28 L487.34,45.60 L487.97,45.93 L488.61,46.26 L489.24,46.59 L489.87,46.92 L490.51,47.25 L491.14,47.58 L491.77,47.91 L492.40,48.25 L493.04,48.58 L493.67,48.91 L494.30,49.25 L494.94,49.58 L495.57,49.91 L496.20,50.25 L496.83,50.59 L497.47,50.92 L498.10,51.26 L498.73,51.60 L499.37,51.94 L500.00,52.28 L500.63,52.61 L501.26,52.95 L501.90,53.29 L502.53,53.63 L503.16,53.98 L503.79,54.32 L504.43,54.66 L505.06,55.00 L505.69,55.34 L506.33,55.69 L506.96,56.03 L507.59,56.38 L508.22,56.72 L508.86,57.06 L509.49,57.41 L510.12,57.76 L510.76,58.10 L511.39,58.45 L512.02,58.79 L512.65,59.14 L513.29,59.49 L513.92,59.84 L514.55,60.18 L515.19,60.53 L515.82,60.88 L516.45,61.23 L517.08,61.58 L517.72,61.93 L518.35,62.28 L518.98,62.63 L519.62,62.98 L520.25,63.33 L520.88,63.68 L521.51,64.03 L522.15,64.38 L522.78,64.73 L523.41,65.09 L524.05,65.44 L524.68,65.79 L525.31,66.14 L525.94,66.49 L526.58,66.85 L527.21,67.20 L527.84,67.55 L528.48,67.91 L529.11,68.26 L529.74,68.61 L530.37,68.97 L531.01,69.32 L531.64,69.67 L532.27,70.03 L532.91,70.38 L533.54,70.73 L534.17,71.09 L534.80,71.44 L535.44,71.80 L536.07,72.15 L536.70,72.51 L537.34,72.86 L537.97,73.22 L538.60,73.57 L539.23,73.93 L539.87,74.28 L540.50,74.64 L541.13,74.99 L541.76,75.35 L542.40,75.71 L543.03,76.06 L543.66,76.42 L544.30,76.77 L544.93,77.13 L545.56,77.49 L546.19,77.84 L546.83,78.20 L547.46,78.56 L548.09,78.91 L548.73,79.27 L549.36,79.63 L549.99,79.99 L550.62,80.34 L551.26,80.70 L551.89,81.06 L552.52,81.42 L553.16,81.78 L553.79,82.13 L554.42,82.49 L555.05,82.85 L555.69,83.21 L556.32,83.57 L556.95,83.93 L557.59,84.29 L558.22,84.65 L558.85,85.01 L559.48,85.36 L560.12,85.72 L560.75,86.08 L561.38,86.44 L562.02,86.80 L562.65,87.16 L563.28,87.52 L563.91,87.89 L564.55,88.25 L565.18,88.61 L565.81,88.97 L566.45,89.33 L567.08,89.69 L567.71,90.05 L568.34,90.41 L568.98,90.77 L569.61,91.14 L570.24,91.50 L570.88,91.86 L571.51,92.22 L572.14,92.58 L572.77,92.95 L573.41,93.31 L574.04,93.67 L574.67,94.03 L575.31,94.40 L575.94,94.76 L576.57,95.12 L577.20,95.49 L577.84,95.85 L578.47,96.21 L579.10,96.58 L579.73,96.94 L580.37,97.31 L581.00,97.67 L581.63,98.04 L582.27,98.40 L582.90,98.76 L583.53,99.13 L584.16,99.49 L584.80,99.86 L585.43,100.23 L586.06,100.59 L586.70,100.96 L587.33,101.32 L587.96,101.69 L588.59,102.05 L589.23,102.42 L589.86,102.79 L590.49,103.15 L591.13,103.52 L591.76,103.89 L592.39,104.25 L593.02,104.62 L593.66,104.99 L594.29,105.36 L594.92,105.72 L595.56,106.09 L596.19,106.46 L596.82,106.83 L597.45,107.20 L598.09,107.56 L598.72,107.93 L599.35,108.30 L599.99,108.67 L600.62,109.04 L601.25,109.41 L601.88,109.78 L602.52,110.14 L603.15,110.51 L603.78,110.88 L604.42,111.25 L605.05,111.62 L605.68,111.99 L606.31,112.36 L606.95,112.72 L607.58,113.09 L608.21,113.46 L608.85,113.83 L609.48,114.20 L610.11,114.56 L610.74,114.93 L611.38,115.30 L612.01,115.66 L612.64,116.03 L613.27,116.39 L613.91,116.76 L614.54,117.12 L615.17,117.49 L615.81,117.85 L616.44,118.21 L617.07,118.58 L617.70,118.94 L618.34,119.30 L618.97,119.66 L619.60,120.02 L620.24,120.38 L620.87,120.74 L621.50,121.10 L622.13,121.46 L622.77,121.82 L623.40,122.17 L624.03,122.53 L624.67,122.88 L625.30,123.24 L625.93,123.59 L626.56,123.94 L627.20,124.29 L627.83,124.65 L628.46,125.00 L629.10,125.34 L629.73,125.69 L630.36,126.04 L630.99,126.39 L631.63,126.73 L632.26,127.07 L632.89,127.42 L633.53,127.76 L634.16,128.10 L634.79,128.44 L635.42,128.78 L636.06,129.12 L636.69,129.45 L637.32,129.79 L637.96,130.12 L638.59,130.45 L639.22,130.78 L639.85,131.11 L640.49,131.44 L641.12,131.77 L641.75,132.10 L642.39,132.42 L643.02,132.74 L643.65,133.06 L644.28,133.38 L644.92,133.70 L645.55,134.02 L646.18,134.34 L646.82,134.65 L647.45,134.96 L648.08,135.27 L648.71,135.58 L649.35,135.89 L649.98,136.20 L650.61,136.50 L651.24,136.80 L651.88,137.10 L652.51,137.40 L653.14,137.70 L653.78,138.00 L654.41,138.29 L655.04,138.58 L655.67,138.87 L656.31,139.16 L656.94,139.45 L657.57,139.73 L658.21,140.01 L658.84,140.29 L659.47,140.57 L660.10,140.85 L660.74,141.12 L661.37,141.40 L662.00,141.67 L662.64,141.94 L663.27,142.20 L663.90,142.47 L664.53,142.73 L665.17,142.99 L665.80,143.25" fill="none" stroke="#000" stroke-width="1.7" stroke-linejoin="round"/>
</g>
<g clip-path="url(#clipC)">
<g fill="#1B9E77"><circle cx="413.30" cy="321.21" r="3.25"/><circle cx="416.91" cy="318.44" r="3.25"/><circle cx="420.51" cy="315.19" r="3.25"/><circle cx="424.12" cy="311.19" r="3.25"/><circle cx="427.73" cy="306.21" r="3.25"/><circle cx="431.34" cy="299.98" r="3.25"/><circle cx="434.94" cy="292.32" r="3.25"/><circle cx="438.55" cy="283.88" r="3.25"/><circle cx="442.16" cy="275.85" r="3.25"/><circle cx="445.76" cy="268.96" r="3.25"/><circle cx="449.37" cy="263.09" r="3.25"/><circle cx="452.98" cy="257.69" r="3.25"/><circle cx="456.58" cy="252.11" r="3.25"/><circle cx="460.19" cy="246.09" r="3.25"/><circle cx="463.80" cy="240.29" r="3.25"/><circle cx="467.41" cy="235.24" r="3.25"/><circle cx="471.01" cy="230.93" r="3.25"/><circle cx="474.62" cy="227.31" r="3.25"/><circle cx="478.23" cy="224.32" r="3.25"/><circle cx="481.83" cy="221.92" r="3.25"/><circle cx="485.44" cy="220.03" r="3.25"/><circle cx="489.05" cy="218.62" r="3.25"/><circle cx="492.65" cy="217.62" r="3.25"/><circle cx="496.26" cy="216.97" r="3.25"/><circle cx="499.87" cy="216.63" r="3.25"/><circle cx="503.48" cy="216.54" r="3.25"/><circle cx="507.08" cy="216.64" r="3.25"/><circle cx="510.69" cy="216.88" r="3.25"/><circle cx="514.30" cy="217.21" r="3.25"/><circle cx="517.90" cy="217.56" r="3.25"/><circle cx="521.51" cy="217.90" r="3.25"/><circle cx="525.12" cy="218.27" r="3.25"/><circle cx="528.72" cy="218.77" r="3.25"/><circle cx="532.33" cy="219.46" r="3.25"/><circle cx="535.94" cy="220.42" r="3.25"/><circle cx="539.55" cy="221.74" r="3.25"/><circle cx="543.15" cy="223.49" r="3.25"/><circle cx="546.76" cy="225.75" r="3.25"/><circle cx="550.37" cy="228.61" r="3.25"/><circle cx="553.97" cy="232.14" r="3.25"/><circle cx="557.58" cy="236.51" r="3.25"/><circle cx="561.19" cy="242.04" r="3.25"/><circle cx="564.79" cy="249.07" r="3.25"/><circle cx="568.40" cy="257.82" r="3.25"/><circle cx="572.01" cy="267.77" r="3.25"/><circle cx="575.62" cy="278.06" r="3.25"/><circle cx="579.22" cy="287.99" r="3.25"/><circle cx="582.83" cy="297.33" r="3.25"/><circle cx="586.44" cy="306.03" r="3.25"/><circle cx="590.04" cy="314.02" r="3.25"/><circle cx="593.65" cy="321.21" r="3.25"/><circle cx="597.26" cy="327.54" r="3.25"/><circle cx="600.86" cy="332.99" r="3.25"/><circle cx="604.47" cy="337.59" r="3.25"/><circle cx="608.08" cy="341.40" r="3.25"/><circle cx="611.69" cy="344.46" r="3.25"/><circle cx="615.29" cy="346.81" r="3.25"/><circle cx="618.90" cy="348.51" r="3.25"/><circle cx="622.51" cy="349.58" r="3.25"/><circle cx="626.11" cy="350.09" r="3.25"/><circle cx="629.72" cy="350.08" r="3.25"/><circle cx="633.33" cy="349.58" r="3.25"/><circle cx="636.93" cy="348.65" r="3.25"/><circle cx="640.54" cy="347.33" r="3.25"/><circle cx="644.15" cy="345.57" r="3.25"/><circle cx="647.75" cy="343.18" r="3.25"/><circle cx="651.36" cy="339.97" r="3.25"/><circle cx="654.97" cy="335.77" r="3.25"/><circle cx="658.58" cy="330.38" r="3.25"/><circle cx="662.18" cy="323.61" r="3.25"/><circle cx="665.79" cy="315.27" r="3.25"/></g>
<g fill="#D95F02"><circle cx="413.30" cy="313.07" r="3.25"/><circle cx="416.91" cy="309.56" r="3.25"/><circle cx="420.51" cy="306.01" r="3.25"/><circle cx="424.12" cy="302.42" r="3.25"/><circle cx="427.73" cy="298.83" r="3.25"/><circle cx="431.34" cy="295.25" r="3.25"/><circle cx="434.94" cy="291.71" r="3.25"/><circle cx="438.55" cy="288.22" r="3.25"/><circle cx="442.16" cy="284.80" r="3.25"/><circle cx="445.76" cy="281.48" r="3.25"/><circle cx="449.37" cy="278.28" r="3.25"/><circle cx="452.98" cy="275.21" r="3.25"/><circle cx="456.58" cy="272.30" r="3.25"/><circle cx="460.19" cy="269.57" r="3.25"/><circle cx="463.80" cy="267.04" r="3.25"/><circle cx="467.41" cy="264.71" r="3.25"/><circle cx="471.01" cy="262.58" r="3.25"/><circle cx="474.62" cy="260.66" r="3.25"/><circle cx="478.23" cy="258.96" r="3.25"/><circle cx="481.83" cy="257.46" r="3.25"/><circle cx="485.44" cy="256.17" r="3.25"/><circle cx="489.05" cy="255.06" r="3.25"/><circle cx="492.65" cy="254.12" r="3.25"/><circle cx="496.26" cy="253.33" r="3.25"/><circle cx="499.87" cy="252.68" r="3.25"/><circle cx="503.48" cy="252.15" r="3.25"/><circle cx="507.08" cy="251.73" r="3.25"/><circle cx="510.69" cy="251.40" r="3.25"/><circle cx="514.30" cy="251.14" r="3.25"/><circle cx="517.90" cy="250.94" r="3.25"/><circle cx="521.51" cy="250.78" r="3.25"/><circle cx="525.12" cy="250.66" r="3.25"/><circle cx="528.72" cy="250.54" r="3.25"/><circle cx="532.33" cy="250.42" r="3.25"/><circle cx="535.94" cy="250.28" r="3.25"/><circle cx="539.55" cy="250.11" r="3.25"/><circle cx="543.15" cy="249.90" r="3.25"/><circle cx="546.76" cy="249.67" r="3.25"/><circle cx="550.37" cy="249.42" r="3.25"/><circle cx="553.97" cy="249.15" r="3.25"/><circle cx="557.58" cy="248.87" r="3.25"/><circle cx="561.19" cy="248.60" r="3.25"/><circle cx="564.79" cy="248.32" r="3.25"/><circle cx="568.40" cy="248.06" r="3.25"/><circle cx="572.01" cy="247.82" r="3.25"/><circle cx="575.62" cy="247.59" r="3.25"/><circle cx="579.22" cy="247.40" r="3.25"/><circle cx="582.83" cy="247.25" r="3.25"/><circle cx="586.44" cy="247.13" r="3.25"/><circle cx="590.04" cy="247.07" r="3.25"/><circle cx="593.65" cy="247.06" r="3.25"/><circle cx="597.26" cy="247.11" r="3.25"/><circle cx="600.86" cy="247.22" r="3.25"/><circle cx="604.47" cy="247.41" r="3.25"/><circle cx="608.08" cy="247.69" r="3.25"/><circle cx="611.69" cy="248.04" r="3.25"/><circle cx="615.29" cy="248.49" r="3.25"/><circle cx="618.90" cy="249.04" r="3.25"/><circle cx="622.51" cy="249.70" r="3.25"/><circle cx="626.11" cy="250.46" r="3.25"/><circle cx="629.72" cy="251.34" r="3.25"/><circle cx="633.33" cy="252.30" r="3.25"/><circle cx="636.93" cy="253.26" r="3.25"/><circle cx="640.54" cy="254.15" r="3.25"/><circle cx="644.15" cy="254.90" r="3.25"/><circle cx="647.75" cy="255.44" r="3.25"/><circle cx="651.36" cy="255.71" r="3.25"/><circle cx="654.97" cy="255.92" r="3.25"/><circle cx="658.58" cy="256.45" r="3.25"/><circle cx="662.18" cy="257.21" r="3.25"/><circle cx="665.79" cy="257.31" r="3.25"/></g>
<g fill="#7570B3"><circle cx="413.30" cy="283.21" r="3.25"/><circle cx="416.91" cy="282.01" r="3.25"/><circle cx="420.51" cy="279.20" r="3.25"/><circle cx="424.12" cy="277.25" r="3.25"/><circle cx="427.73" cy="275.28" r="3.25"/><circle cx="431.34" cy="272.26" r="3.25"/><circle cx="434.94" cy="267.47" r="3.25"/><circle cx="438.55" cy="264.22" r="3.25"/><circle cx="442.16" cy="260.39" r="3.90"/><circle cx="445.76" cy="257.61" r="3.90"/><circle cx="449.37" cy="253.24" r="3.90"/><circle cx="452.98" cy="250.64" r="3.90"/><circle cx="456.58" cy="247.70" r="3.90"/><circle cx="460.19" cy="243.83" r="3.90"/><circle cx="463.80" cy="241.77" r="3.90"/><circle cx="467.41" cy="239.01" r="3.90"/><circle cx="471.01" cy="235.56" r="3.90"/><circle cx="474.62" cy="234.55" r="3.90"/><circle cx="478.23" cy="232.11" r="3.90"/><circle cx="481.83" cy="230.79" r="3.90"/><circle cx="485.44" cy="229.10" r="3.90"/><circle cx="489.05" cy="228.68" r="3.90"/><circle cx="492.65" cy="227.10" r="3.90"/><circle cx="496.26" cy="225.61" r="3.90"/><circle cx="499.87" cy="225.61" r="3.90"/><circle cx="503.48" cy="225.42" r="3.90"/><circle cx="507.08" cy="223.92" r="3.90"/><circle cx="510.69" cy="223.29" r="3.90"/><circle cx="514.30" cy="223.23" r="3.90"/><circle cx="517.90" cy="224.00" r="3.90"/><circle cx="521.51" cy="223.79" r="3.90"/><circle cx="525.12" cy="222.93" r="3.90"/><circle cx="528.72" cy="223.15" r="3.90"/><circle cx="532.33" cy="222.78" r="3.90"/><circle cx="535.94" cy="221.58" r="3.90"/><circle cx="539.55" cy="220.71" r="3.90"/><circle cx="543.15" cy="221.49" r="3.90"/><circle cx="546.76" cy="220.91" r="3.90"/><circle cx="550.37" cy="220.09" r="3.90"/><circle cx="553.97" cy="219.37" r="3.90"/><circle cx="557.58" cy="219.28" r="3.90"/><circle cx="561.19" cy="218.94" r="3.90"/><circle cx="564.79" cy="218.09" r="3.90"/><circle cx="568.40" cy="217.70" r="3.90"/><circle cx="572.01" cy="217.62" r="3.90"/><circle cx="575.62" cy="218.06" r="3.90"/><circle cx="579.22" cy="217.20" r="3.90"/><circle cx="582.83" cy="216.33" r="3.90"/><circle cx="586.44" cy="216.13" r="3.90"/><circle cx="590.04" cy="216.37" r="3.90"/><circle cx="593.65" cy="215.85" r="3.90"/><circle cx="597.26" cy="215.92" r="3.90"/><circle cx="600.86" cy="216.73" r="3.90"/><circle cx="604.47" cy="216.19" r="3.90"/><circle cx="608.08" cy="217.42" r="3.90"/><circle cx="611.69" cy="217.76" r="3.90"/><circle cx="615.29" cy="219.18" r="3.90"/><circle cx="618.90" cy="220.15" r="3.90"/><circle cx="622.51" cy="221.10" r="3.90"/><circle cx="626.11" cy="222.34" r="3.90"/><circle cx="629.72" cy="223.15" r="3.90"/><circle cx="633.33" cy="225.40" r="3.90"/><circle cx="636.93" cy="226.76" r="3.90"/><circle cx="640.54" cy="229.73" r="3.90"/><circle cx="644.15" cy="232.34" r="3.90"/><circle cx="647.75" cy="236.12" r="3.90"/><circle cx="651.36" cy="238.76" r="3.90"/><circle cx="654.97" cy="241.73" r="3.90"/><circle cx="658.58" cy="244.23" r="3.90"/><circle cx="662.18" cy="241.39" r="3.90"/><circle cx="665.79" cy="237.73" r="3.90"/></g>
<path d="M413.30,326.95 L413.93,326.08 L414.57,325.20 L415.20,324.29 L415.83,323.37 L416.46,322.43 L417.10,321.47 L417.73,320.49 L418.36,319.50 L419.00,318.50 L419.63,317.48 L420.26,316.44 L420.89,315.40 L421.53,314.33 L422.16,313.26 L422.79,312.17 L423.43,311.07 L424.06,309.96 L424.69,308.84 L425.32,307.70 L425.96,306.56 L426.59,305.41 L427.22,304.24 L427.86,303.07 L428.49,301.89 L429.12,300.70 L429.75,299.51 L430.39,298.31 L431.02,297.10 L431.65,295.88 L432.28,294.66 L432.92,293.44 L433.55,292.21 L434.18,290.97 L434.82,289.74 L435.45,288.50 L436.08,287.25 L436.71,286.01 L437.35,284.76 L437.98,283.51 L438.61,282.26 L439.25,281.01 L439.88,279.76 L440.51,278.51 L441.14,277.27 L441.78,276.02 L442.41,274.78 L443.04,273.53 L443.68,272.30 L444.31,271.06 L444.94,269.83 L445.57,268.60 L446.21,267.38 L446.84,266.16 L447.47,264.95 L448.11,263.75 L448.74,262.55 L449.37,261.36 L450.00,260.18 L450.64,259.00 L451.27,257.84 L451.90,256.68 L452.54,255.53 L453.17,254.40 L453.80,253.27 L454.43,252.16 L455.07,251.06 L455.70,249.97 L456.33,248.90 L456.97,247.83 L457.60,246.79 L458.23,245.75 L458.86,244.73 L459.50,243.73 L460.13,242.74 L460.76,241.77 L461.40,240.82 L462.03,239.88 L462.66,238.96 L463.29,238.06 L463.93,237.17 L464.56,236.31 L465.19,235.46 L465.83,234.63 L466.46,233.82 L467.09,233.03 L467.72,232.25 L468.36,231.50 L468.99,230.77 L469.62,230.06 L470.25,229.37 L470.89,228.70 L471.52,228.06 L472.15,227.43 L472.79,226.83 L473.42,226.25 L474.05,225.69 L474.68,225.15 L475.32,224.64 L475.95,224.15 L476.58,223.68 L477.22,223.23 L477.85,222.80 L478.48,222.39 L479.11,222.00 L479.75,221.63 L480.38,221.28 L481.01,220.95 L481.65,220.63 L482.28,220.33 L482.91,220.05 L483.54,219.78 L484.18,219.53 L484.81,219.29 L485.44,219.07 L486.08,218.86 L486.71,218.67 L487.34,218.49 L487.97,218.32 L488.61,218.16 L489.24,218.02 L489.87,217.88 L490.51,217.76 L491.14,217.65 L491.77,217.55 L492.40,217.45 L493.04,217.37 L493.67,217.29 L494.30,217.22 L494.94,217.16 L495.57,217.11 L496.20,217.06 L496.83,217.02 L497.47,216.98 L498.10,216.95 L498.73,216.92 L499.37,216.90 L500.00,216.88 L500.63,216.86 L501.26,216.85 L501.90,216.83 L502.53,216.83 L503.16,216.82 L503.79,216.82 L504.43,216.82 L505.06,216.82 L505.69,216.83 L506.33,216.84 L506.96,216.85 L507.59,216.87 L508.22,216.89 L508.86,216.91 L509.49,216.94 L510.12,216.97 L510.76,217.00 L511.39,217.03 L512.02,217.07 L512.65,217.11 L513.29,217.15 L513.92,217.20 L514.55,217.25 L515.19,217.30 L515.82,217.36 L516.45,217.42 L517.08,217.48 L517.72,217.54 L518.35,217.61 L518.98,217.68 L519.62,217.76 L520.25,217.83 L520.88,217.91 L521.51,218.00 L522.15,218.08 L522.78,218.17 L523.41,218.26 L524.05,218.36 L524.68,218.46 L525.31,218.56 L525.94,218.66 L526.58,218.77 L527.21,218.88 L527.84,219.00 L528.48,219.12 L529.11,219.24 L529.74,219.36 L530.37,219.50 L531.01,219.63 L531.64,219.78 L532.27,219.93 L532.91,220.09 L533.54,220.26 L534.17,220.43 L534.80,220.62 L535.44,220.82 L536.07,221.03 L536.70,221.25 L537.34,221.48 L537.97,221.73 L538.60,221.99 L539.23,222.27 L539.87,222.56 L540.50,222.86 L541.13,223.18 L541.76,223.52 L542.40,223.88 L543.03,224.25 L543.66,224.65 L544.30,225.06 L544.93,225.49 L545.56,225.95 L546.19,226.42 L546.83,226.92 L547.46,227.44 L548.09,227.99 L548.73,228.56 L549.36,229.15 L549.99,229.77 L550.62,230.41 L551.26,231.08 L551.89,231.78 L552.52,232.51 L553.16,233.26 L553.79,234.05 L554.42,234.86 L555.05,235.71 L555.69,236.58 L556.32,237.48 L556.95,238.42 L557.59,239.38 L558.22,240.37 L558.85,241.39 L559.48,242.44 L560.12,243.52 L560.75,244.62 L561.38,245.76 L562.02,246.92 L562.65,248.11 L563.28,249.33 L563.91,250.58 L564.55,251.86 L565.18,253.16 L565.81,254.49 L566.45,255.85 L567.08,257.24 L567.71,258.64 L568.34,260.07 L568.98,261.53 L569.61,263.00 L570.24,264.49 L570.88,266.00 L571.51,267.52 L572.14,269.06 L572.77,270.61 L573.41,272.17 L574.04,273.74 L574.67,275.32 L575.31,276.91 L575.94,278.50 L576.57,280.10 L577.20,281.70 L577.84,283.30 L578.47,284.91 L579.10,286.51 L579.73,288.12 L580.37,289.72 L581.00,291.32 L581.63,292.91 L582.27,294.50 L582.90,296.08 L583.53,297.65 L584.16,299.21 L584.80,300.76 L585.43,302.30 L586.06,303.83 L586.70,305.34 L587.33,306.84 L587.96,308.32 L588.59,309.79 L589.23,311.24 L589.86,312.66 L590.49,314.07 L591.13,315.45 L591.76,316.81 L592.39,318.15 L593.02,319.46 L593.66,320.74 L594.29,322.00 L594.92,323.22 L595.56,324.42 L596.19,325.59 L596.82,326.72 L597.45,327.82 L598.09,328.90 L598.72,329.94 L599.35,330.95 L599.99,331.93 L600.62,332.88 L601.25,333.80 L601.88,334.70 L602.52,335.56 L603.15,336.40 L603.78,337.20 L604.42,337.98 L605.05,338.74 L605.68,339.46 L606.31,340.16 L606.95,340.83 L607.58,341.48 L608.21,342.10 L608.85,342.69 L609.48,343.26 L610.11,343.81 L610.74,344.33 L611.38,344.82 L612.01,345.29 L612.64,345.74 L613.27,346.16 L613.91,346.57 L614.54,346.95 L615.17,347.30 L615.81,347.64 L616.44,347.95 L617.07,348.24 L617.70,348.51 L618.34,348.76 L618.97,348.99 L619.60,349.20 L620.24,349.39 L620.87,349.56 L621.50,349.71 L622.13,349.84 L622.77,349.95 L623.40,350.04 L624.03,350.12 L624.67,350.18 L625.30,350.22 L625.93,350.24 L626.56,350.25 L627.20,350.24 L627.83,350.22 L628.46,350.18 L629.10,350.12 L629.73,350.05 L630.36,349.97 L630.99,349.87 L631.63,349.75 L632.26,349.63 L632.89,349.48 L633.53,349.33 L634.16,349.16 L634.79,348.98 L635.42,348.79 L636.06,348.58 L636.69,348.37 L637.32,348.14 L637.96,347.90 L638.59,347.65 L639.22,347.39 L639.85,347.13 L640.49,346.84 L641.12,346.55 L641.75,346.25 L642.39,345.93 L643.02,345.60 L643.65,345.25 L644.28,344.89 L644.92,344.51 L645.55,344.12 L646.18,343.70 L646.82,343.27 L647.45,342.82 L648.08,342.35 L648.71,341.86 L649.35,341.35 L649.98,340.81 L650.61,340.26 L651.24,339.67 L651.88,339.07 L652.51,338.44 L653.14,337.78 L653.78,337.10 L654.41,336.39 L655.04,335.65 L655.67,334.88 L656.31,334.08 L656.94,333.26 L657.57,332.40 L658.21,331.51 L658.84,330.58 L659.47,329.63 L660.10,328.64 L660.74,327.61 L661.37,326.55 L662.00,325.45 L662.64,324.32 L663.27,323.14 L663.90,321.93 L664.53,320.68 L665.17,319.39 L665.80,318.06" fill="none" stroke="#000" stroke-width="1.7" stroke-linejoin="round"/>
<path d="M413.30,315.07 L413.93,314.46 L414.57,313.84 L415.20,313.22 L415.83,312.60 L416.46,311.97 L417.10,311.34 L417.73,310.71 L418.36,310.08 L419.00,309.44 L419.63,308.80 L420.26,308.16 L420.89,307.52 L421.53,306.87 L422.16,306.23 L422.79,305.58 L423.43,304.93 L424.06,304.28 L424.69,303.63 L425.32,302.98 L425.96,302.33 L426.59,301.68 L427.22,301.03 L427.86,300.38 L428.49,299.73 L429.12,299.08 L429.75,298.43 L430.39,297.78 L431.02,297.13 L431.65,296.48 L432.28,295.84 L432.92,295.19 L433.55,294.55 L434.18,293.91 L434.82,293.27 L435.45,292.63 L436.08,291.99 L436.71,291.36 L437.35,290.73 L437.98,290.10 L438.61,289.48 L439.25,288.86 L439.88,288.24 L440.51,287.62 L441.14,287.01 L441.78,286.40 L442.41,285.80 L443.04,285.20 L443.68,284.61 L444.31,284.01 L444.94,283.43 L445.57,282.85 L446.21,282.27 L446.84,281.70 L447.47,281.13 L448.11,280.57 L448.74,280.01 L449.37,279.46 L450.00,278.92 L450.64,278.38 L451.27,277.85 L451.90,277.33 L452.54,276.81 L453.17,276.30 L453.80,275.79 L454.43,275.29 L455.07,274.80 L455.70,274.32 L456.33,273.85 L456.97,273.38 L457.60,272.92 L458.23,272.46 L458.86,272.02 L459.50,271.58 L460.13,271.14 L460.76,270.72 L461.40,270.30 L462.03,269.89 L462.66,269.48 L463.29,269.08 L463.93,268.69 L464.56,268.30 L465.19,267.92 L465.83,267.55 L466.46,267.18 L467.09,266.82 L467.72,266.47 L468.36,266.12 L468.99,265.78 L469.62,265.44 L470.25,265.11 L470.89,264.79 L471.52,264.47 L472.15,264.16 L472.79,263.85 L473.42,263.55 L474.05,263.26 L474.68,262.97 L475.32,262.68 L475.95,262.40 L476.58,262.13 L477.22,261.86 L477.85,261.60 L478.48,261.34 L479.11,261.09 L479.75,260.84 L480.38,260.59 L481.01,260.36 L481.65,260.12 L482.28,259.89 L482.91,259.67 L483.54,259.45 L484.18,259.24 L484.81,259.03 L485.44,258.82 L486.08,258.62 L486.71,258.42 L487.34,258.23 L487.97,258.04 L488.61,257.86 L489.24,257.68 L489.87,257.50 L490.51,257.33 L491.14,257.16 L491.77,256.99 L492.40,256.83 L493.04,256.67 L493.67,256.52 L494.30,256.37 L494.94,256.22 L495.57,256.08 L496.20,255.94 L496.83,255.80 L497.47,255.67 L498.10,255.54 L498.73,255.41 L499.37,255.29 L500.00,255.17 L500.63,255.05 L501.26,254.94 L501.90,254.82 L502.53,254.71 L503.16,254.61 L503.79,254.50 L504.43,254.40 L505.06,254.30 L505.69,254.20 L506.33,254.11 L506.96,254.02 L507.59,253.93 L508.22,253.84 L508.86,253.75 L509.49,253.67 L510.12,253.59 L510.76,253.51 L511.39,253.43 L512.02,253.36 L512.65,253.28 L513.29,253.21 L513.92,253.14 L514.55,253.07 L515.19,253.00 L515.82,252.93 L516.45,252.87 L517.08,252.80 L517.72,252.74 L518.35,252.68 L518.98,252.62 L519.62,252.56 L520.25,252.50 L520.88,252.44 L521.51,252.39 L522.15,252.33 L522.78,252.28 L523.41,252.22 L524.05,252.17 L524.68,252.11 L525.31,252.06 L525.94,252.01 L526.58,251.96 L527.21,251.91 L527.84,251.85 L528.48,251.80 L529.11,251.75 L529.74,251.70 L530.37,251.65 L531.01,251.60 L531.64,251.54 L532.27,251.49 L532.91,251.44 L533.54,251.39 L534.17,251.34 L534.80,251.28 L535.44,251.23 L536.07,251.17 L536.70,251.12 L537.34,251.06 L537.97,251.01 L538.60,250.95 L539.23,250.89 L539.87,250.83 L540.50,250.77 L541.13,250.71 L541.76,250.65 L542.40,250.59 L543.03,250.53 L543.66,250.47 L544.30,250.41 L544.93,250.35 L545.56,250.29 L546.19,250.22 L546.83,250.16 L547.46,250.10 L548.09,250.04 L548.73,249.98 L549.36,249.91 L549.99,249.85 L550.62,249.79 L551.26,249.73 L551.89,249.66 L552.52,249.60 L553.16,249.54 L553.79,249.48 L554.42,249.42 L555.05,249.36 L555.69,249.30 L556.32,249.24 L556.95,249.18 L557.59,249.12 L558.22,249.06 L558.85,249.00 L559.48,248.95 L560.12,248.89 L560.75,248.83 L561.38,248.78 L562.02,248.72 L562.65,248.67 L563.28,248.62 L563.91,248.57 L564.55,248.52 L565.18,248.47 L565.81,248.42 L566.45,248.37 L567.08,248.32 L567.71,248.28 L568.34,248.23 L568.98,248.19 L569.61,248.15 L570.24,248.11 L570.88,248.07 L571.51,248.03 L572.14,247.99 L572.77,247.96 L573.41,247.92 L574.04,247.89 L574.67,247.86 L575.31,247.83 L575.94,247.80 L576.57,247.78 L577.20,247.75 L577.84,247.73 L578.47,247.71 L579.10,247.69 L579.73,247.67 L580.37,247.66 L581.00,247.64 L581.63,247.63 L582.27,247.62 L582.90,247.61 L583.53,247.61 L584.16,247.61 L584.80,247.61 L585.43,247.61 L586.06,247.61 L586.70,247.62 L587.33,247.62 L587.96,247.63 L588.59,247.65 L589.23,247.66 L589.86,247.68 L590.49,247.70 L591.13,247.72 L591.76,247.75 L592.39,247.78 L593.02,247.81 L593.66,247.84 L594.29,247.87 L594.92,247.91 L595.56,247.95 L596.19,248.00 L596.82,248.05 L597.45,248.10 L598.09,248.15 L598.72,248.21 L599.35,248.26 L599.99,248.33 L600.62,248.39 L601.25,248.46 L601.88,248.53 L602.52,248.61 L603.15,248.68 L603.78,248.77 L604.42,248.85 L605.05,248.94 L605.68,249.03 L606.31,249.13 L606.95,249.22 L607.58,249.33 L608.21,249.43 L608.85,249.54 L609.48,249.65 L610.11,249.77 L610.74,249.89 L611.38,250.01 L612.01,250.13 L612.64,250.26 L613.27,250.39 L613.91,250.52 L614.54,250.65 L615.17,250.79 L615.81,250.93 L616.44,251.07 L617.07,251.21 L617.70,251.36 L618.34,251.51 L618.97,251.66 L619.60,251.81 L620.24,251.96 L620.87,252.11 L621.50,252.27 L622.13,252.43 L622.77,252.58 L623.40,252.74 L624.03,252.90 L624.67,253.06 L625.30,253.23 L625.93,253.39 L626.56,253.55 L627.20,253.72 L627.83,253.88 L628.46,254.04 L629.10,254.21 L629.73,254.37 L630.36,254.54 L630.99,254.71 L631.63,254.87 L632.26,255.04 L632.89,255.20 L633.53,255.36 L634.16,255.53 L634.79,255.69 L635.42,255.85 L636.06,256.01 L636.69,256.17 L637.32,256.33 L637.96,256.49 L638.59,256.64 L639.22,256.79 L639.85,256.93 L640.49,257.07 L641.12,257.21 L641.75,257.34 L642.39,257.47 L643.02,257.59 L643.65,257.70 L644.28,257.81 L644.92,257.91 L645.55,258.00 L646.18,258.09 L646.82,258.16 L647.45,258.23 L648.08,258.29 L648.71,258.34 L649.35,258.38 L649.98,258.41 L650.61,258.43 L651.24,258.44 L651.88,258.44 L652.51,258.43 L653.14,258.40 L653.78,258.36 L654.41,258.31 L655.04,258.24 L655.67,258.16 L656.31,258.07 L656.94,257.96 L657.57,257.84 L658.21,257.70 L658.84,257.54 L659.47,257.37 L660.10,257.19 L660.74,256.98 L661.37,256.76 L662.00,256.52 L662.64,256.26 L663.27,255.98 L663.90,255.69 L664.53,255.37 L665.17,255.03 L665.80,254.68" fill="none" stroke="#000" stroke-width="1.7" stroke-linejoin="round"/>
<path d="M413.30,287.03 L413.93,286.19 L414.57,285.38 L415.20,284.59 L415.83,283.81 L416.46,283.05 L417.10,282.32 L417.73,281.59 L418.36,280.89 L419.00,280.20 L419.63,279.53 L420.26,278.87 L420.89,278.23 L421.53,277.60 L422.16,276.98 L422.79,276.38 L423.43,275.78 L424.06,275.20 L424.69,274.63 L425.32,274.07 L425.96,273.52 L426.59,272.97 L427.22,272.44 L427.86,271.91 L428.49,271.39 L429.12,270.88 L429.75,270.37 L430.39,269.86 L431.02,269.36 L431.65,268.87 L432.28,268.38 L432.92,267.89 L433.55,267.40 L434.18,266.91 L434.82,266.43 L435.45,265.94 L436.08,265.45 L436.71,264.97 L437.35,264.48 L437.98,263.99 L438.61,263.49 L439.25,262.99 L439.88,262.49 L440.51,261.98 L441.14,261.47 L441.78,260.95 L442.41,260.43 L443.04,259.89 L443.68,259.35 L444.31,258.80 L444.94,258.25 L445.57,257.68 L446.21,257.11 L446.84,256.54 L447.47,255.95 L448.11,255.36 L448.74,254.77 L449.37,254.17 L450.00,253.57 L450.64,252.96 L451.27,252.35 L451.90,251.74 L452.54,251.12 L453.17,250.51 L453.80,249.89 L454.43,249.27 L455.07,248.65 L455.70,248.03 L456.33,247.41 L456.97,246.79 L457.60,246.17 L458.23,245.55 L458.86,244.93 L459.50,244.32 L460.13,243.71 L460.76,243.10 L461.40,242.50 L462.03,241.90 L462.66,241.31 L463.29,240.72 L463.93,240.14 L464.56,239.56 L465.19,238.99 L465.83,238.42 L466.46,237.87 L467.09,237.32 L467.72,236.78 L468.36,236.25 L468.99,235.72 L469.62,235.21 L470.25,234.71 L470.89,234.21 L471.52,233.73 L472.15,233.25 L472.79,232.79 L473.42,232.33 L474.05,231.88 L474.68,231.44 L475.32,231.01 L475.95,230.59 L476.58,230.18 L477.22,229.78 L477.85,229.38 L478.48,229.00 L479.11,228.62 L479.75,228.25 L480.38,227.89 L481.01,227.54 L481.65,227.19 L482.28,226.86 L482.91,226.53 L483.54,226.21 L484.18,225.90 L484.81,225.59 L485.44,225.29 L486.08,225.00 L486.71,224.72 L487.34,224.45 L487.97,224.18 L488.61,223.92 L489.24,223.66 L489.87,223.42 L490.51,223.18 L491.14,222.94 L491.77,222.72 L492.40,222.50 L493.04,222.29 L493.67,222.08 L494.30,221.88 L494.94,221.69 L495.57,221.50 L496.20,221.32 L496.83,221.14 L497.47,220.97 L498.10,220.81 L498.73,220.65 L499.37,220.50 L500.00,220.36 L500.63,220.22 L501.26,220.08 L501.90,219.95 L502.53,219.83 L503.16,219.71 L503.79,219.60 L504.43,219.49 L505.06,219.38 L505.69,219.28 L506.33,219.19 L506.96,219.10 L507.59,219.02 L508.22,218.94 L508.86,218.86 L509.49,218.79 L510.12,218.72 L510.76,218.66 L511.39,218.60 L512.02,218.55 L512.65,218.50 L513.29,218.45 L513.92,218.41 L514.55,218.37 L515.19,218.33 L515.82,218.30 L516.45,218.27 L517.08,218.25 L517.72,218.22 L518.35,218.20 L518.98,218.19 L519.62,218.18 L520.25,218.17 L520.88,218.16 L521.51,218.15 L522.15,218.15 L522.78,218.15 L523.41,218.16 L524.05,218.16 L524.68,218.17 L525.31,218.18 L525.94,218.19 L526.58,218.21 L527.21,218.23 L527.84,218.25 L528.48,218.27 L529.11,218.29 L529.74,218.31 L530.37,218.34 L531.01,218.36 L531.64,218.39 L532.27,218.42 L532.91,218.45 L533.54,218.49 L534.17,218.52 L534.80,218.55 L535.44,218.59 L536.07,218.62 L536.70,218.66 L537.34,218.70 L537.97,218.73 L538.60,218.77 L539.23,218.81 L539.87,218.85 L540.50,218.89 L541.13,218.93 L541.76,218.97 L542.40,219.01 L543.03,219.05 L543.66,219.09 L544.30,219.12 L544.93,219.16 L545.56,219.20 L546.19,219.24 L546.83,219.27 L547.46,219.31 L548.09,219.34 L548.73,219.38 L549.36,219.41 L549.99,219.44 L550.62,219.47 L551.26,219.50 L551.89,219.53 L552.52,219.56 L553.16,219.58 L553.79,219.61 L554.42,219.63 L555.05,219.65 L555.69,219.67 L556.32,219.68 L556.95,219.70 L557.59,219.71 L558.22,219.72 L558.85,219.73 L559.48,219.74 L560.12,219.74 L560.75,219.74 L561.38,219.74 L562.02,219.74 L562.65,219.73 L563.28,219.72 L563.91,219.71 L564.55,219.70 L565.18,219.69 L565.81,219.67 L566.45,219.65 L567.08,219.63 L567.71,219.61 L568.34,219.59 L568.98,219.57 L569.61,219.55 L570.24,219.52 L570.88,219.50 L571.51,219.47 L572.14,219.44 L572.77,219.42 L573.41,219.39 L574.04,219.36 L574.67,219.33 L575.31,219.30 L575.94,219.27 L576.57,219.24 L577.20,219.21 L577.84,219.19 L578.47,219.16 L579.10,219.13 L579.73,219.10 L580.37,219.07 L581.00,219.05 L581.63,219.02 L582.27,219.00 L582.90,218.97 L583.53,218.95 L584.16,218.93 L584.80,218.91 L585.43,218.89 L586.06,218.87 L586.70,218.85 L587.33,218.84 L587.96,218.83 L588.59,218.82 L589.23,218.81 L589.86,218.80 L590.49,218.79 L591.13,218.79 L591.76,218.79 L592.39,218.79 L593.02,218.80 L593.66,218.81 L594.29,218.82 L594.92,218.83 L595.56,218.84 L596.19,218.86 L596.82,218.89 L597.45,218.91 L598.09,218.94 L598.72,218.97 L599.35,219.01 L599.99,219.05 L600.62,219.09 L601.25,219.14 L601.88,219.19 L602.52,219.24 L603.15,219.30 L603.78,219.36 L604.42,219.43 L605.05,219.50 L605.68,219.58 L606.31,219.66 L606.95,219.74 L607.58,219.83 L608.21,219.93 L608.85,220.03 L609.48,220.13 L610.11,220.24 L610.74,220.36 L611.38,220.48 L612.01,220.61 L612.64,220.74 L613.27,220.88 L613.91,221.02 L614.54,221.17 L615.17,221.32 L615.81,221.49 L616.44,221.65 L617.07,221.83 L617.70,222.01 L618.34,222.19 L618.97,222.39 L619.60,222.59 L620.24,222.79 L620.87,223.01 L621.50,223.23 L622.13,223.46 L622.77,223.69 L623.40,223.93 L624.03,224.18 L624.67,224.44 L625.30,224.70 L625.93,224.98 L626.56,225.25 L627.20,225.54 L627.83,225.84 L628.46,226.14 L629.10,226.45 L629.73,226.77 L630.36,227.10 L630.99,227.44 L631.63,227.78 L632.26,228.14 L632.89,228.50 L633.53,228.87 L634.16,229.25 L634.79,229.64 L635.42,230.04 L636.06,230.44 L636.69,230.85 L637.32,231.26 L637.96,231.68 L638.59,232.11 L639.22,232.53 L639.85,232.96 L640.49,233.39 L641.12,233.82 L641.75,234.25 L642.39,234.67 L643.02,235.10 L643.65,235.52 L644.28,235.94 L644.92,236.36 L645.55,236.76 L646.18,237.17 L646.82,237.56 L647.45,237.95 L648.08,238.33 L648.71,238.70 L649.35,239.06 L649.98,239.41 L650.61,239.75 L651.24,240.08 L651.88,240.39 L652.51,240.69 L653.14,240.97 L653.78,241.24 L654.41,241.49 L655.04,241.72 L655.67,241.93 L656.31,242.13 L656.94,242.30 L657.57,242.46 L658.21,242.59 L658.84,242.70 L659.47,242.79 L660.10,242.85 L660.74,242.89 L661.37,242.91 L662.00,242.89 L662.64,242.85 L663.27,242.79 L663.90,242.69 L664.53,242.56 L665.17,242.41 L665.80,242.22" fill="none" stroke="#000" stroke-width="1.7" stroke-linejoin="round"/>
</g>
<rect x="59.5" y="6.3" width="277.50" height="346.60" fill="none" stroke="#333333" stroke-width="1.3"/>
<line x1="77.90" y1="352.9" x2="77.90" y2="356.50" stroke="#333333" stroke-width="1.3"/>
<line x1="118.70" y1="352.9" x2="118.70" y2="356.50" stroke="#333333" stroke-width="1.3"/>
<line x1="159.50" y1="352.9" x2="159.50" y2="356.50" stroke="#333333" stroke-width="1.3"/>
<line x1="200.30" y1="352.9" x2="200.30" y2="356.50" stroke="#333333" stroke-width="1.3"/>
<line x1="241.10" y1="352.9" x2="241.10" y2="356.50" stroke="#333333" stroke-width="1.3"/>
<line x1="281.90" y1="352.9" x2="281.90" y2="356.50" stroke="#333333" stroke-width="1.3"/>
<line x1="322.70" y1="352.9" x2="322.70" y2="356.50" stroke="#333333" stroke-width="1.3"/>
<line x1="55.90" y1="347.50" x2="59.5" y2="347.50" stroke="#333333" stroke-width="1.3"/>
<line x1="55.90" y1="301.20" x2="59.5" y2="301.20" stroke="#333333" stroke-width="1.3"/>
<line x1="55.90" y1="254.90" x2="59.5" y2="254.90" stroke="#333333" stroke-width="1.3"/>
<line x1="55.90" y1="208.60" x2="59.5" y2="208.60" stroke="#333333" stroke-width="1.3"/>
<line x1="55.90" y1="162.30" x2="59.5" y2="162.30" stroke="#333333" stroke-width="1.3"/>
<line x1="55.90" y1="116.00" x2="59.5" y2="116.00" stroke="#333333" stroke-width="1.3"/>
<line x1="55.90" y1="69.70" x2="59.5" y2="69.70" stroke="#333333" stroke-width="1.3"/>
<line x1="55.90" y1="23.40" x2="59.5" y2="23.40" stroke="#333333" stroke-width="1.3"/>
<rect x="400.9" y="6.3" width="277.90" height="143.50" fill="none" stroke="#333333" stroke-width="1.3"/>
<line x1="413.30" y1="149.8" x2="413.30" y2="153.40" stroke="#333333" stroke-width="1.3"/>
<line x1="449.37" y1="149.8" x2="449.37" y2="153.40" stroke="#333333" stroke-width="1.3"/>
<line x1="485.44" y1="149.8" x2="485.44" y2="153.40" stroke="#333333" stroke-width="1.3"/>
<line x1="521.51" y1="149.8" x2="521.51" y2="153.40" stroke="#333333" stroke-width="1.3"/>
<line x1="557.58" y1="149.8" x2="557.58" y2="153.40" stroke="#333333" stroke-width="1.3"/>
<line x1="593.65" y1="149.8" x2="593.65" y2="153.40" stroke="#333333" stroke-width="1.3"/>
<line x1="629.72" y1="149.8" x2="629.72" y2="153.40" stroke="#333333" stroke-width="1.3"/>
<line x1="665.79" y1="149.8" x2="665.79" y2="153.40" stroke="#333333" stroke-width="1.3"/>
<line x1="397.30" y1="148.90" x2="400.9" y2="148.90" stroke="#333333" stroke-width="1.3"/>
<line x1="397.30" y1="126.90" x2="400.9" y2="126.90" stroke="#333333" stroke-width="1.3"/>
<line x1="397.30" y1="104.90" x2="400.9" y2="104.90" stroke="#333333" stroke-width="1.3"/>
<line x1="397.30" y1="82.90" x2="400.9" y2="82.90" stroke="#333333" stroke-width="1.3"/>
<line x1="397.30" y1="60.90" x2="400.9" y2="60.90" stroke="#333333" stroke-width="1.3"/>
<line x1="397.30" y1="38.90" x2="400.9" y2="38.90" stroke="#333333" stroke-width="1.3"/>
<line x1="397.30" y1="16.90" x2="400.9" y2="16.90" stroke="#333333" stroke-width="1.3"/>
<rect x="400.9" y="210.1" width="278.20" height="147.20" fill="none" stroke="#333333" stroke-width="1.3"/>
<line x1="413.30" y1="357.3" x2="413.30" y2="360.90" stroke="#333333" stroke-width="1.3"/>
<line x1="449.37" y1="357.3" x2="449.37" y2="360.90" stroke="#333333" stroke-width="1.3"/>
<line x1="485.44" y1="357.3" x2="485.44" y2="360.90" stroke="#333333" stroke-width="1.3"/>
<line x1="521.51" y1="357.3" x2="521.51" y2="360.90" stroke="#333333" stroke-width="1.3"/>
<line x1="557.58" y1="357.3" x2="557.58" y2="360.90" stroke="#333333" stroke-width="1.3"/>
<line x1="593.65" y1="357.3" x2="593.65" y2="360.90" stroke="#333333" stroke-width="1.3"/>
<line x1="629.72" y1="357.3" x2="629.72" y2="360.90" stroke="#333333" stroke-width="1.3"/>
<line x1="665.79" y1="357.3" x2="665.79" y2="360.90" stroke="#333333" stroke-width="1.3"/>
<line x1="397.30" y1="325.30" x2="400.9" y2="325.30" stroke="#333333" stroke-width="1.3"/>
<line x1="397.30" y1="291.10" x2="400.9" y2="291.10" stroke="#333333" stroke-width="1.3"/>
<line x1="397.30" y1="256.90" x2="400.9" y2="256.90" stroke="#333333" stroke-width="1.3"/>
<line x1="397.30" y1="222.70" x2="400.9" y2="222.70" stroke="#333333" stroke-width="1.3"/>
<text x="77.60" y="373.00" text-anchor="middle" font-size="14.5" fill="#4D4D4D" stroke="#4D4D4D">10<tspan font-size="10.5" dy="-7.5">1</tspan></text>
<text x="118.40" y="373.00" text-anchor="middle" font-size="14.5" fill="#4D4D4D" stroke="#4D4D4D">10<tspan font-size="10.5" dy="-7.5">2</tspan></text>
<text x="159.20" y="373.00" text-anchor="middle" font-size="14.5" fill="#4D4D4D" stroke="#4D4D4D">10<tspan font-size="10.5" dy="-7.5">3</tspan></text>
<text x="200.00" y="373.00" text-anchor="middle" font-size="14.5" fill="#4D4D4D" stroke="#4D4D4D">10<tspan font-size="10.5" dy="-7.5">4</tspan></text>
<text x="240.80" y="373.00" text-anchor="middle" font-size="14.5" fill="#4D4D4D" stroke="#4D4D4D">10<tspan font-size="10.5" dy="-7.5">5</tspan></text>
<text x="281.60" y="373.00" text-anchor="middle" font-size="14.5" fill="#4D4D4D" stroke="#4D4D4D">10<tspan font-size="10.5" dy="-7.5">6</tspan></text>
<text x="322.40" y="373.00" text-anchor="middle" font-size="14.5" fill="#4D4D4D" stroke="#4D4D4D">10<tspan font-size="10.5" dy="-7.5">7</tspan></text>
<text x="53.80" y="355.20" text-anchor="end" font-size="14.5" fill="#4D4D4D" stroke="#4D4D4D">10<tspan font-size="10.5" dy="-7.5">0</tspan></text>
<text x="53.80" y="308.90" text-anchor="end" font-size="14.5" fill="#4D4D4D" stroke="#4D4D4D">10<tspan font-size="10.5" dy="-7.5">1</tspan></text>
<text x="53.80" y="262.60" text-anchor="end" font-size="14.5" fill="#4D4D4D" stroke="#4D4D4D">10<tspan font-size="10.5" dy="-7.5">2</tspan></text>
<text x="53.80" y="216.30" text-anchor="end" font-size="14.5" fill="#4D4D4D" stroke="#4D4D4D">10<tspan font-size="10.5" dy="-7.5">3</tspan></text>
<text x="53.80" y="170.00" text-anchor="end" font-size="14.5" fill="#4D4D4D" stroke="#4D4D4D">10<tspan font-size="10.5" dy="-7.5">4</tspan></text>
<text x="53.80" y="123.70" text-anchor="end" font-size="14.5" fill="#4D4D4D" stroke="#4D4D4D">10<tspan font-size="10.5" dy="-7.5">5</tspan></text>
<text x="53.80" y="77.40" text-anchor="end" font-size="14.5" fill="#4D4D4D" stroke="#4D4D4D">10<tspan font-size="10.5" dy="-7.5">6</tspan></text>
<text x="53.80" y="31.10" text-anchor="end" font-size="14.5" fill="#4D4D4D" stroke="#4D4D4D">10<tspan font-size="10.5" dy="-7.5">7</tspan></text>
<text x="413.00" y="170.00" text-anchor="middle" font-size="14.5" fill="#4D4D4D" stroke="#4D4D4D">10<tspan font-size="10.5" dy="-7.5">-2</tspan></text>
<text x="449.07" y="170.00" text-anchor="middle" font-size="14.5" fill="#4D4D4D" stroke="#4D4D4D">10<tspan font-size="10.5" dy="-7.5">-1</tspan></text>
<text x="485.14" y="170.00" text-anchor="middle" font-size="14.5" fill="#4D4D4D" stroke="#4D4D4D">10<tspan font-size="10.5" dy="-7.5">0</tspan></text>
<text x="521.21" y="170.00" text-anchor="middle" font-size="14.5" fill="#4D4D4D" stroke="#4D4D4D">10<tspan font-size="10.5" dy="-7.5">1</tspan></text>
<text x="557.28" y="170.00" text-anchor="middle" font-size="14.5" fill="#4D4D4D" stroke="#4D4D4D">10<tspan font-size="10.5" dy="-7.5">2</tspan></text>
<text x="593.35" y="170.00" text-anchor="middle" font-size="14.5" fill="#4D4D4D" stroke="#4D4D4D">10<tspan font-size="10.5" dy="-7.5">3</tspan></text>
<text x="629.42" y="170.00" text-anchor="middle" font-size="14.5" fill="#4D4D4D" stroke="#4D4D4D">10<tspan font-size="10.5" dy="-7.5">4</tspan></text>
<text x="665.49" y="170.00" text-anchor="middle" font-size="14.5" fill="#4D4D4D" stroke="#4D4D4D">10<tspan font-size="10.5" dy="-7.5">5</tspan></text>
<text x="395.00" y="155.90" text-anchor="end" font-size="14.5" fill="#4D4D4D" stroke="#4D4D4D">10<tspan font-size="10.5" dy="-7.5">1</tspan></text>
<text x="395.00" y="133.90" text-anchor="end" font-size="14.5" fill="#4D4D4D" stroke="#4D4D4D">10<tspan font-size="10.5" dy="-7.5">2</tspan></text>
<text x="395.00" y="111.90" text-anchor="end" font-size="14.5" fill="#4D4D4D" stroke="#4D4D4D">10<tspan font-size="10.5" dy="-7.5">3</tspan></text>
<text x="395.00" y="89.90" text-anchor="end" font-size="14.5" fill="#4D4D4D" stroke="#4D4D4D">10<tspan font-size="10.5" dy="-7.5">4</tspan></text>
<text x="395.00" y="67.90" text-anchor="end" font-size="14.5" fill="#4D4D4D" stroke="#4D4D4D">10<tspan font-size="10.5" dy="-7.5">5</tspan></text>
<text x="395.00" y="45.90" text-anchor="end" font-size="14.5" fill="#4D4D4D" stroke="#4D4D4D">10<tspan font-size="10.5" dy="-7.5">6</tspan></text>
<text x="395.00" y="23.90" text-anchor="end" font-size="14.5" fill="#4D4D4D" stroke="#4D4D4D">10<tspan font-size="10.5" dy="-7.5">7</tspan></text>
<text x="413.00" y="377.90" text-anchor="middle" font-size="14.5" fill="#4D4D4D" stroke="#4D4D4D">10<tspan font-size="10.5" dy="-7.5">-2</tspan></text>
<text x="449.07" y="377.90" text-anchor="middle" font-size="14.5" fill="#4D4D4D" stroke="#4D4D4D">10<tspan font-size="10.5" dy="-7.5">-1</tspan></text>
<text x="485.14" y="377.90" text-anchor="middle" font-size="14.5" fill="#4D4D4D" stroke="#4D4D4D">10<tspan font-size="10.5" dy="-7.5">0</tspan></text>
<text x="521.21" y="377.90" text-anchor="middle" font-size="14.5" fill="#4D4D4D" stroke="#4D4D4D">10<tspan font-size="10.5" dy="-7.5">1</tspan></text>
<text x="557.28" y="377.90" text-anchor="middle" font-size="14.5" fill="#4D4D4D" stroke="#4D4D4D">10<tspan font-size="10.5" dy="-7.5">2</tspan></text>
<text x="593.35" y="377.90" text-anchor="middle" font-size="14.5" fill="#4D4D4D" stroke="#4D4D4D">10<tspan font-size="10.5" dy="-7.5">3</tspan></text>
<text x="629.42" y="377.90" text-anchor="middle" font-size="14.5" fill="#4D4D4D" stroke="#4D4D4D">10<tspan font-size="10.5" dy="-7.5">4</tspan></text>
<text x="665.49" y="377.90" text-anchor="middle" font-size="14.5" fill="#4D4D4D" stroke="#4D4D4D">10<tspan font-size="10.5" dy="-7.5">5</tspan></text>
<text x="396.3" y="330.50" text-anchor="end" font-size="14.5" fill="#4D4D4D" stroke="#4D4D4D">20</text>
<text x="396.3" y="296.30" text-anchor="end" font-size="14.5" fill="#4D4D4D" stroke="#4D4D4D">40</text>
<text x="396.3" y="262.10" text-anchor="end" font-size="14.5" fill="#4D4D4D" stroke="#4D4D4D">60</text>
<text x="396.3" y="227.90" text-anchor="end" font-size="14.5" fill="#4D4D4D" stroke="#4D4D4D">80</text>
<text x="198.3" y="393" text-anchor="middle" font-size="18.6" fill="#000" stroke="#000">Z' (Ω)</text>
<text x="539.8" y="189.5" text-anchor="middle" font-size="18.6" fill="#000" stroke="#000">Frecuency (Hz)</text>
<text x="539.8" y="397.5" text-anchor="middle" font-size="18.6" fill="#000" stroke="#000">Frecuency (Hz)</text>
<text transform="translate(20.3 180.5) rotate(-90)" text-anchor="middle" font-size="18.6" fill="#000" stroke="#000">-Z" (Ω)</text>
<text transform="translate(361.8 78.5) rotate(-90)" text-anchor="middle" font-size="18.6" fill="#000" stroke="#000">|Z| (Ω)</text>
<text transform="translate(362.8 283) rotate(-90)" text-anchor="middle" font-size="18.6" fill="#000" stroke="#000">Phase (°)</text>
<text x="8" y="16.3" font-size="14.5" font-weight="bold" fill="#000" stroke="#000">a)</text>
<text x="349.2" y="16.3" font-size="14.5" font-weight="bold" fill="#000" stroke="#000">b)</text>
<text x="349.6" y="219.3" font-size="14.5" font-weight="bold" fill="#000" stroke="#000">c)</text>
<circle cx="192.9" cy="423" r="3.5" fill="#1B9E77"/>
<text x="211" y="427.6" font-size="14.6" fill="#000" stroke="#000">AISI 316L</text>
<circle cx="297.3" cy="423" r="3.5" fill="#D95F02"/>
<text x="315.5" y="426.6" font-size="14.6" fill="#000" stroke="#000">ZrN-ZrO<tspan font-size="9.2" dy="2.4">x</tspan><tspan dy="-2.4">N</tspan><tspan font-size="9.2" dy="2.4">y</tspan></text>
<circle cx="410" cy="423" r="3.5" fill="#7570B3"/>
<text x="428" y="426.6" font-size="14.6" fill="#000" stroke="#000">ZrO<tspan font-size="9.2" dy="2.4">2</tspan><tspan dy="-2.4">-ZrO</tspan><tspan font-size="9.2" dy="2.4">x</tspan><tspan dy="-2.4">N</tspan><tspan font-size="9.2" dy="2.4">y</tspan></text>
</svg>
</body></html>
